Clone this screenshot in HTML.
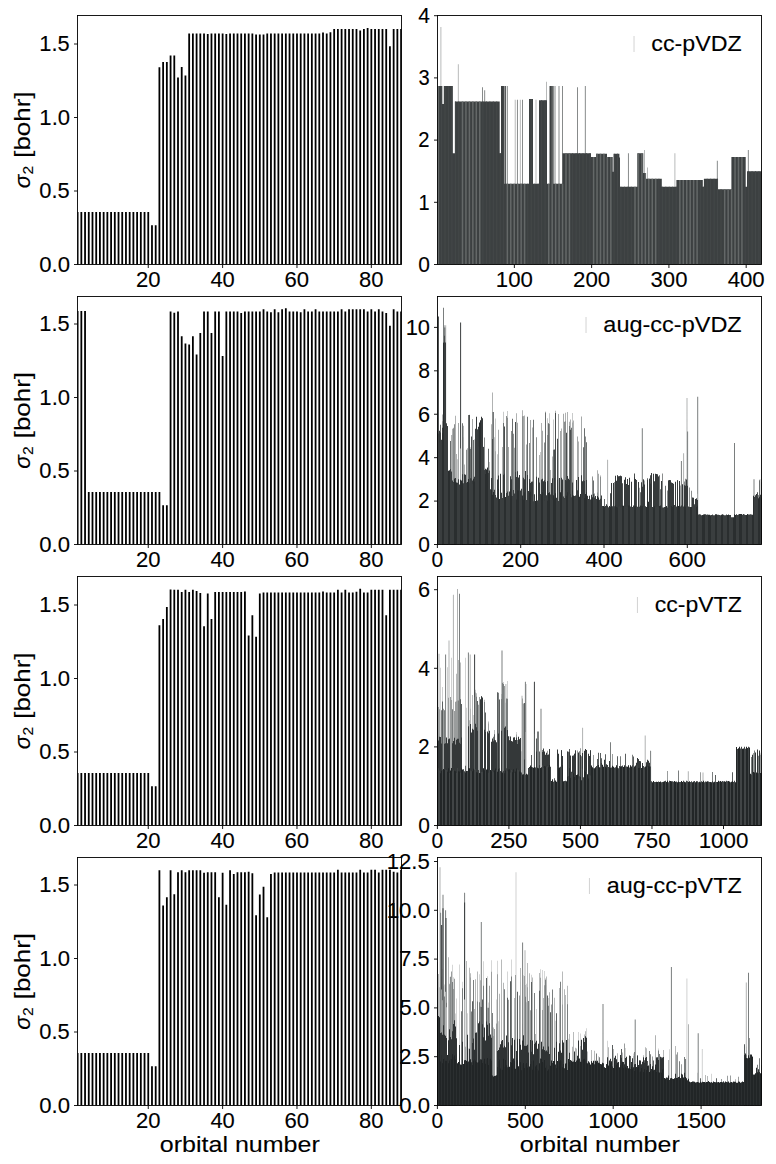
<!DOCTYPE html><html><head><meta charset="utf-8"><style>html,body{margin:0;padding:0;background:#fff;}svg{display:block;}</style></head><body><svg width="776" height="1164" viewBox="0 0 776 1164" font-family="Liberation Sans, sans-serif" fill="#000">
<style>text{stroke:#000;stroke-width:0.12px;}</style>
<rect width="776" height="1164" fill="#fff"/>
<clipPath id="cl0"><rect x="77.50" y="15.50" width="324.00" height="249.00"/></clipPath>
<path clip-path="url(#cl0)" fill="#000" d="M76.72 212.02h1.80V264.50h-1.80zM80.44 212.02h1.80V264.50h-1.80zM84.15 212.02h1.80V264.50h-1.80zM87.87 212.02h1.80V264.50h-1.80zM91.59 212.02h1.80V264.50h-1.80zM95.31 212.02h1.80V264.50h-1.80zM99.03 212.02h1.80V264.50h-1.80zM102.74 212.02h1.80V264.50h-1.80zM106.46 212.02h1.80V264.50h-1.80zM110.18 212.02h1.80V264.50h-1.80zM113.90 212.02h1.80V264.50h-1.80zM117.62 212.02h1.80V264.50h-1.80zM121.33 212.02h1.80V264.50h-1.80zM125.05 212.02h1.80V264.50h-1.80zM128.77 212.02h1.80V264.50h-1.80zM132.49 212.02h1.80V264.50h-1.80zM136.21 212.02h1.80V264.50h-1.80zM139.92 212.02h1.80V264.50h-1.80zM143.64 212.02h1.80V264.50h-1.80zM147.36 212.02h1.80V264.50h-1.80zM151.08 225.25h1.80V264.50h-1.80zM154.80 225.25h1.80V264.50h-1.80zM158.51 67.37h1.80V264.50h-1.80zM162.23 61.93h1.80V264.50h-1.80zM165.95 61.93h1.80V264.50h-1.80zM169.67 55.47h1.80V264.50h-1.80zM173.39 55.47h1.80V264.50h-1.80zM177.10 77.52h1.80V264.50h-1.80zM180.82 67.08h1.80V264.50h-1.80zM184.54 75.46h1.80V264.50h-1.80zM188.26 33.42h1.80V264.50h-1.80zM191.98 33.42h1.80V264.50h-1.80zM195.69 33.42h1.80V264.50h-1.80zM199.41 33.42h1.80V264.50h-1.80zM203.13 33.42h1.80V264.50h-1.80zM206.85 34.00h1.80V264.50h-1.80zM210.57 33.42h1.80V264.50h-1.80zM214.28 33.42h1.80V264.50h-1.80zM218.00 33.42h1.80V264.50h-1.80zM221.72 33.42h1.80V264.50h-1.80zM225.44 34.00h1.80V264.50h-1.80zM229.16 33.42h1.80V264.50h-1.80zM232.87 33.42h1.80V264.50h-1.80zM236.59 33.42h1.80V264.50h-1.80zM240.31 33.42h1.80V264.50h-1.80zM244.03 33.42h1.80V264.50h-1.80zM247.75 33.42h1.80V264.50h-1.80zM251.46 33.42h1.80V264.50h-1.80zM255.18 34.59h1.80V264.50h-1.80zM258.90 34.59h1.80V264.50h-1.80zM262.62 34.59h1.80V264.50h-1.80zM266.34 33.42h1.80V264.50h-1.80zM270.05 33.42h1.80V264.50h-1.80zM273.77 33.42h1.80V264.50h-1.80zM277.49 33.42h1.80V264.50h-1.80zM281.21 33.42h1.80V264.50h-1.80zM284.93 33.42h1.80V264.50h-1.80zM288.64 33.42h1.80V264.50h-1.80zM292.36 33.42h1.80V264.50h-1.80zM296.08 33.42h1.80V264.50h-1.80zM299.80 33.42h1.80V264.50h-1.80zM303.52 33.42h1.80V264.50h-1.80zM307.23 33.42h1.80V264.50h-1.80zM310.95 33.42h1.80V264.50h-1.80zM314.67 33.42h1.80V264.50h-1.80zM318.39 33.42h1.80V264.50h-1.80zM322.11 32.53h1.80V264.50h-1.80zM325.82 33.42h1.80V264.50h-1.80zM329.54 32.24h1.80V264.50h-1.80zM333.26 29.01h1.80V264.50h-1.80zM336.98 29.01h1.80V264.50h-1.80zM340.70 29.01h1.80V264.50h-1.80zM344.41 29.01h1.80V264.50h-1.80zM348.13 29.01h1.80V264.50h-1.80zM351.85 29.01h1.80V264.50h-1.80zM355.57 29.01h1.80V264.50h-1.80zM359.29 30.48h1.80V264.50h-1.80zM363.00 29.01h1.80V264.50h-1.80zM366.72 28.12h1.80V264.50h-1.80zM370.44 29.01h1.80V264.50h-1.80zM374.16 29.01h1.80V264.50h-1.80zM377.88 29.01h1.80V264.50h-1.80zM381.59 29.01h1.80V264.50h-1.80zM385.31 29.01h1.80V264.50h-1.80zM389.03 46.35h1.80V264.50h-1.80zM392.75 29.01h1.80V264.50h-1.80zM396.47 29.01h1.80V264.50h-1.80zM400.18 29.01h1.80V264.50h-1.80z"/>
<rect x="77.50" y="15.50" width="324.00" height="249.00" fill="none" stroke="#000" stroke-width="0.9"/>
<text x="39.30" y="271.80" font-size="21.50" textLength="30.74" lengthAdjust="spacingAndGlyphs">0.0</text>
<text x="39.31" y="198.30" font-size="21.50" textLength="30.37" lengthAdjust="spacingAndGlyphs">0.5</text>
<text x="39.36" y="124.80" font-size="21.50" textLength="30.68" lengthAdjust="spacingAndGlyphs">1.0</text>
<text x="39.38" y="51.30" font-size="21.50" textLength="30.30" lengthAdjust="spacingAndGlyphs">1.5</text>
<path stroke="#000" stroke-width="0.9" d="M74.00 264.50h3.50M74.00 191.00h3.50M74.00 117.50h3.50M74.00 44.00h3.50"/>
<text x="135.95" y="286.50" font-size="21.50" textLength="24.52" lengthAdjust="spacingAndGlyphs">20</text>
<text x="210.43" y="286.50" font-size="21.50" textLength="24.39" lengthAdjust="spacingAndGlyphs">40</text>
<text x="284.58" y="286.50" font-size="21.50" textLength="24.60" lengthAdjust="spacingAndGlyphs">60</text>
<text x="359.09" y="286.50" font-size="21.50" textLength="24.46" lengthAdjust="spacingAndGlyphs">80</text>
<path stroke="#000" stroke-width="0.9" d="M148.26 264.50v3.50M222.62 264.50v3.50M296.98 264.50v3.50M371.34 264.50v3.50"/>
<text transform="translate(29.6 188.20) rotate(-90)" font-size="22.3" font-style="italic">&#963;</text>
<text transform="translate(32.9 174.40) rotate(-90)" font-size="15.5">2</text>
<text transform="translate(29.6 157.80) rotate(-90)" font-size="22.4" textLength="66.3" lengthAdjust="spacingAndGlyphs">[bohr]</text>
<clipPath id="cr0"><rect x="437.50" y="15.50" width="324.00" height="249.00"/></clipPath>
<g clip-path="url(#cr0)">
<path fill="#3a3e3f" d="M505.15 85.99H506.05V264.50H505.15z"/>
<path fill="#7a7e7e" d="M506.85 85.99H507.75V264.50H506.85zM482.05 87.23H482.95V264.50H482.05zM484.25 90.34H485.15V264.50H484.25zM516.95 99.67H517.85V264.50H516.95zM522.05 99.67H522.95V264.50H522.05zM554.55 85.99H555.45V264.50H554.55zM558.55 85.99H559.45V264.50H558.55zM562.05 85.99H562.95V264.50H562.05zM577.05 87.23H577.95V264.50H577.05zM584.85 85.99H585.75V264.50H584.85zM627.95 153.16H628.85V264.50H627.95zM716.85 160.63H717.75V264.50H716.85zM747.85 150.05H748.75V264.50H747.85z"/>
<path fill="#b0b2b2" d="M440.45 26.90H441.35V264.50H440.45zM457.85 64.22H458.75V264.50H457.85zM514.75 99.67H515.65V264.50H514.75zM519.85 99.67H520.75V264.50H519.85zM535.55 99.67H536.45V264.50H535.55zM546.05 81.63H546.95V264.50H546.05zM644.05 150.05H644.95V264.50H644.05zM647.05 167.47H647.95V264.50H647.05zM674.45 153.16H675.35V264.50H674.45z"/>
<path fill="#3c4041" d="M437.50 85.99H442.30V264.50H437.50zM442.30 104.02H443.80V264.50H442.30zM443.80 85.99H452.80V264.50H443.80zM452.80 153.16H455.00V264.50H452.80zM455.00 101.54H499.70V264.50H455.00zM499.70 153.16H501.00V264.50H499.70zM501.00 85.99H504.50V264.50H501.00zM504.50 183.64H529.00V264.50H504.50zM529.00 99.05H533.00V264.50H529.00zM533.00 183.64H539.00V264.50H533.00zM539.00 100.29H547.00V264.50H539.00zM547.00 183.64H549.50V264.50H547.00zM549.50 85.99H553.60V264.50H549.50zM553.60 183.64H562.50V264.50H553.60zM562.50 153.16H591.00V264.50H562.50zM591.00 156.89H596.00V264.50H591.00zM596.00 153.78H607.00V264.50H596.00zM607.00 156.89H612.70V264.50H607.00zM612.70 171.82H613.90V264.50H612.70zM613.90 153.78H619.40V264.50H613.90zM619.40 157.52H620.00V264.50H619.40zM620.00 186.75H637.30V264.50H620.00zM637.30 153.16H643.30V264.50H637.30zM643.30 173.07H645.60V264.50H643.30zM645.60 178.66H661.80V264.50H645.60zM661.80 186.75H676.40V264.50H661.80zM676.40 179.91H702.80V264.50H676.40zM702.80 186.75H703.90V264.50H702.80zM703.90 178.66H717.70V264.50H703.90zM717.70 189.24H731.40V264.50H717.70zM731.40 156.89H745.20V264.50H731.40zM745.20 186.75H747.00V264.50H745.20zM747.00 171.20H762.00V264.50H747.00z"/>
<path fill="#646868" d="M437.60 85.99H439.10V264.50H437.60zM461.75 101.54H463.25V264.50H461.75zM465.20 101.54H466.70V264.50H465.20zM468.65 101.54H470.15V264.50H468.65zM472.10 101.54H473.60V264.50H472.10zM475.55 101.54H477.05V264.50H475.55zM479.00 101.54H480.50V264.50H479.00zM506.60 183.64H508.10V264.50H506.60zM510.05 183.64H511.55V264.50H510.05zM513.50 183.64H515.00V264.50H513.50zM516.95 183.64H518.45V264.50H516.95zM520.40 183.64H521.90V264.50H520.40zM523.85 183.64H525.35V264.50H523.85zM548.00 183.64H549.50V264.50H548.00zM551.45 85.99H552.95V264.50H551.45zM554.90 183.64H556.40V264.50H554.90zM558.35 183.64H559.85V264.50H558.35zM561.80 183.64H563.30V264.50H561.80zM565.25 153.16H566.75V264.50H565.25zM568.70 153.16H570.20V264.50H568.70zM592.85 156.89H594.35V264.50H592.85zM596.30 153.78H597.80V264.50H596.30zM599.75 153.78H601.25V264.50H599.75zM603.20 153.78H604.70V264.50H603.20zM606.65 156.89H608.15V264.50H606.65zM610.10 156.89H611.60V264.50H610.10zM634.25 186.75H635.75V264.50H634.25zM637.70 153.16H639.20V264.50H637.70zM641.15 153.16H642.65V264.50H641.15zM644.60 173.07H646.10V264.50H644.60zM648.05 178.66H649.55V264.50H648.05zM651.50 178.66H653.00V264.50H651.50zM654.95 178.66H656.45V264.50H654.95zM679.10 179.91H680.60V264.50H679.10zM682.55 179.91H684.05V264.50H682.55zM686.00 179.91H687.50V264.50H686.00zM689.45 179.91H690.95V264.50H689.45zM692.90 179.91H694.40V264.50H692.90zM696.35 179.91H697.85V264.50H696.35zM723.95 189.24H725.45V264.50H723.95zM727.40 189.24H728.90V264.50H727.40zM730.85 189.24H732.35V264.50H730.85zM734.30 156.89H735.80V264.50H734.30zM737.75 156.89H739.25V264.50H737.75zM741.20 156.89H742.70V264.50H741.20z"/>
<path fill="#444849" d="M441.05 85.99H442.05V264.50H441.05zM444.50 85.99H445.50V264.50H444.50zM447.95 85.99H448.95V264.50H447.95zM451.40 85.99H452.40V264.50H451.40zM454.85 101.54H455.85V264.50H454.85zM458.30 101.54H459.30V264.50H458.30zM482.45 101.54H483.45V264.50H482.45zM485.90 101.54H486.90V264.50H485.90zM489.35 101.54H490.35V264.50H489.35zM492.80 101.54H493.80V264.50H492.80zM496.25 101.54H497.25V264.50H496.25zM499.70 153.16H500.70V264.50H499.70zM503.15 85.99H504.15V264.50H503.15zM527.30 183.64H528.30V264.50H527.30zM530.75 99.05H531.75V264.50H530.75zM534.20 183.64H535.20V264.50H534.20zM537.65 183.64H538.65V264.50H537.65zM541.10 100.29H542.10V264.50H541.10zM544.55 100.29H545.55V264.50H544.55zM572.15 153.16H573.15V264.50H572.15zM575.60 153.16H576.60V264.50H575.60zM579.05 153.16H580.05V264.50H579.05zM582.50 153.16H583.50V264.50H582.50zM585.95 153.16H586.95V264.50H585.95zM589.40 153.16H590.40V264.50H589.40zM613.55 153.78H614.55V264.50H613.55zM617.00 153.78H618.00V264.50H617.00zM620.45 186.75H621.45V264.50H620.45zM623.90 186.75H624.90V264.50H623.90zM627.35 186.75H628.35V264.50H627.35zM630.80 186.75H631.80V264.50H630.80zM658.40 178.66H659.40V264.50H658.40zM661.85 186.75H662.85V264.50H661.85zM665.30 186.75H666.30V264.50H665.30zM668.75 186.75H669.75V264.50H668.75zM672.20 186.75H673.20V264.50H672.20zM675.65 186.75H676.65V264.50H675.65zM699.80 179.91H700.80V264.50H699.80zM703.25 186.75H704.25V264.50H703.25zM706.70 178.66H707.70V264.50H706.70zM710.15 178.66H711.15V264.50H710.15zM713.60 178.66H714.60V264.50H713.60zM717.05 178.66H718.05V264.50H717.05zM720.50 189.24H721.50V264.50H720.50zM744.65 156.89H745.65V264.50H744.65zM748.10 171.20H749.10V264.50H748.10zM751.55 171.20H752.55V264.50H751.55zM755.00 171.20H756.00V264.50H755.00zM758.45 171.20H759.45V264.50H758.45z"/>
</g>
<rect x="437.50" y="15.50" width="324.00" height="249.00" fill="none" stroke="#000" stroke-width="0.9"/>
<text x="418.33" y="271.80" font-size="21.50" textLength="11.67" lengthAdjust="spacingAndGlyphs">0</text>
<text x="418.51" y="209.60" font-size="21.50" textLength="11.14" lengthAdjust="spacingAndGlyphs">1</text>
<text x="418.28" y="147.40" font-size="21.50" textLength="11.24" lengthAdjust="spacingAndGlyphs">2</text>
<text x="418.59" y="85.20" font-size="21.50" textLength="11.21" lengthAdjust="spacingAndGlyphs">3</text>
<text x="418.33" y="23.00" font-size="21.50" textLength="11.66" lengthAdjust="spacingAndGlyphs">4</text>
<path stroke="#000" stroke-width="0.9" d="M434.00 264.50h3.50M434.00 202.30h3.50M434.00 140.10h3.50M434.00 77.90h3.50M434.00 15.70h3.50"/>
<text x="495.88" y="286.50" font-size="21.50" textLength="37.03" lengthAdjust="spacingAndGlyphs">100</text>
<text x="572.99" y="286.50" font-size="21.50" textLength="37.20" lengthAdjust="spacingAndGlyphs">200</text>
<text x="650.59" y="286.50" font-size="21.50" textLength="36.85" lengthAdjust="spacingAndGlyphs">300</text>
<text x="727.65" y="286.50" font-size="21.50" textLength="37.07" lengthAdjust="spacingAndGlyphs">400</text>
<path stroke="#000" stroke-width="0.9" d="M514.37 264.50v3.50M591.64 264.50v3.50M668.91 264.50v3.50M746.18 264.50v3.50"/>
<path stroke="#c8c8c8" stroke-width="0.8" d="M634.03 36.00v16.00"/>
<text x="651.35" y="50.50" font-size="22.40" textLength="90.37" lengthAdjust="spacingAndGlyphs">cc-pVDZ</text>
<clipPath id="cl1"><rect x="77.50" y="296.50" width="324.00" height="248.00"/></clipPath>
<path clip-path="url(#cl1)" fill="#000" d="M76.72 311.06h1.80V544.50h-1.80zM80.44 311.06h1.80V544.50h-1.80zM84.15 311.06h1.80V544.50h-1.80zM87.87 492.02h1.80V544.50h-1.80zM91.59 492.02h1.80V544.50h-1.80zM95.31 492.02h1.80V544.50h-1.80zM99.03 492.02h1.80V544.50h-1.80zM102.74 492.02h1.80V544.50h-1.80zM106.46 492.02h1.80V544.50h-1.80zM110.18 492.02h1.80V544.50h-1.80zM113.90 492.02h1.80V544.50h-1.80zM117.62 492.02h1.80V544.50h-1.80zM121.33 492.02h1.80V544.50h-1.80zM125.05 492.02h1.80V544.50h-1.80zM128.77 492.02h1.80V544.50h-1.80zM132.49 492.02h1.80V544.50h-1.80zM136.21 492.02h1.80V544.50h-1.80zM139.92 492.02h1.80V544.50h-1.80zM143.64 492.02h1.80V544.50h-1.80zM147.36 492.02h1.80V544.50h-1.80zM151.08 492.02h1.80V544.50h-1.80zM154.80 492.02h1.80V544.50h-1.80zM158.51 492.02h1.80V544.50h-1.80zM162.23 505.25h1.80V544.50h-1.80zM165.95 505.25h1.80V544.50h-1.80zM169.67 311.50h1.80V544.50h-1.80zM173.39 312.68h1.80V544.50h-1.80zM177.10 311.50h1.80V544.50h-1.80zM180.82 336.35h1.80V544.50h-1.80zM184.54 343.55h1.80V544.50h-1.80zM188.26 344.43h1.80V544.50h-1.80zM191.98 336.35h1.80V544.50h-1.80zM195.69 354.43h1.80V544.50h-1.80zM199.41 333.11h1.80V544.50h-1.80zM203.13 311.50h1.80V544.50h-1.80zM206.85 311.50h1.80V544.50h-1.80zM210.57 333.11h1.80V544.50h-1.80zM214.28 311.50h1.80V544.50h-1.80zM218.00 311.50h1.80V544.50h-1.80zM221.72 356.05h1.80V544.50h-1.80zM225.44 311.50h1.80V544.50h-1.80zM229.16 311.50h1.80V544.50h-1.80zM232.87 311.50h1.80V544.50h-1.80zM236.59 311.50h1.80V544.50h-1.80zM240.31 312.98h1.80V544.50h-1.80zM244.03 311.50h1.80V544.50h-1.80zM247.75 311.50h1.80V544.50h-1.80zM251.46 311.50h1.80V544.50h-1.80zM255.18 311.50h1.80V544.50h-1.80zM258.90 311.50h1.80V544.50h-1.80zM262.62 309.30h1.80V544.50h-1.80zM266.34 311.50h1.80V544.50h-1.80zM270.05 312.24h1.80V544.50h-1.80zM273.77 309.30h1.80V544.50h-1.80zM277.49 312.24h1.80V544.50h-1.80zM281.21 309.30h1.80V544.50h-1.80zM284.93 308.27h1.80V544.50h-1.80zM288.64 311.50h1.80V544.50h-1.80zM292.36 311.50h1.80V544.50h-1.80zM296.08 311.50h1.80V544.50h-1.80zM299.80 312.24h1.80V544.50h-1.80zM303.52 309.30h1.80V544.50h-1.80zM307.23 311.50h1.80V544.50h-1.80zM310.95 311.50h1.80V544.50h-1.80zM314.67 309.30h1.80V544.50h-1.80zM318.39 311.50h1.80V544.50h-1.80zM322.11 311.50h1.80V544.50h-1.80zM325.82 311.50h1.80V544.50h-1.80zM329.54 311.50h1.80V544.50h-1.80zM333.26 311.50h1.80V544.50h-1.80zM336.98 311.50h1.80V544.50h-1.80zM340.70 309.30h1.80V544.50h-1.80zM344.41 311.50h1.80V544.50h-1.80zM348.13 309.30h1.80V544.50h-1.80zM351.85 309.30h1.80V544.50h-1.80zM355.57 309.30h1.80V544.50h-1.80zM359.29 309.30h1.80V544.50h-1.80zM363.00 309.30h1.80V544.50h-1.80zM366.72 311.50h1.80V544.50h-1.80zM370.44 309.30h1.80V544.50h-1.80zM374.16 311.50h1.80V544.50h-1.80zM377.88 309.30h1.80V544.50h-1.80zM381.59 311.50h1.80V544.50h-1.80zM385.31 312.98h1.80V544.50h-1.80zM389.03 325.76h1.80V544.50h-1.80zM392.75 309.30h1.80V544.50h-1.80zM396.47 311.50h1.80V544.50h-1.80zM400.18 311.50h1.80V544.50h-1.80z"/>
<rect x="77.50" y="296.50" width="324.00" height="248.00" fill="none" stroke="#000" stroke-width="0.9"/>
<text x="39.30" y="551.80" font-size="21.50" textLength="30.74" lengthAdjust="spacingAndGlyphs">0.0</text>
<text x="39.31" y="478.30" font-size="21.50" textLength="30.37" lengthAdjust="spacingAndGlyphs">0.5</text>
<text x="39.36" y="404.80" font-size="21.50" textLength="30.68" lengthAdjust="spacingAndGlyphs">1.0</text>
<text x="39.38" y="331.30" font-size="21.50" textLength="30.30" lengthAdjust="spacingAndGlyphs">1.5</text>
<path stroke="#000" stroke-width="0.9" d="M74.00 544.50h3.50M74.00 471.00h3.50M74.00 397.50h3.50M74.00 324.00h3.50"/>
<text x="135.95" y="566.50" font-size="21.50" textLength="24.52" lengthAdjust="spacingAndGlyphs">20</text>
<text x="210.43" y="566.50" font-size="21.50" textLength="24.39" lengthAdjust="spacingAndGlyphs">40</text>
<text x="284.58" y="566.50" font-size="21.50" textLength="24.60" lengthAdjust="spacingAndGlyphs">60</text>
<text x="359.09" y="566.50" font-size="21.50" textLength="24.46" lengthAdjust="spacingAndGlyphs">80</text>
<path stroke="#000" stroke-width="0.9" d="M148.26 544.50v3.50M222.62 544.50v3.50M296.98 544.50v3.50M371.34 544.50v3.50"/>
<text transform="translate(29.6 468.70) rotate(-90)" font-size="22.3" font-style="italic">&#963;</text>
<text transform="translate(32.9 454.90) rotate(-90)" font-size="15.5">2</text>
<text transform="translate(29.6 438.30) rotate(-90)" font-size="22.4" textLength="66.3" lengthAdjust="spacingAndGlyphs">[bohr]</text>
<clipPath id="cr1"><rect x="437.50" y="296.50" width="324.00" height="248.00"/></clipPath>
<g clip-path="url(#cr1)">
<path fill="#c8caca" d="M457.00 459.15H458.00V544.50H457.00zM460.00 425.52H461.00V544.50H460.00zM470.00 447.23H471.00V544.50H470.00zM474.00 439.36H475.00V544.50H474.00zM489.00 461.99H490.00V544.50H489.00zM492.00 420.55H493.00V544.50H492.00zM494.00 437.27H495.00V544.50H494.00zM495.00 418.40H496.00V544.50H495.00zM497.00 454.15H498.00V544.50H497.00zM503.00 411.85H504.00V544.50H503.00zM507.00 411.11H508.00V544.50H507.00zM523.00 415.95H524.00V544.50H523.00zM540.00 452.12H541.00V544.50H540.00zM545.00 411.52H546.00V544.50H545.00zM547.00 418.13H548.00V544.50H547.00zM549.00 413.34H550.00V544.50H549.00zM553.00 419.52H554.00V544.50H553.00zM572.00 412.89H573.00V544.50H572.00z"/>
<path fill="#b0b2b2" d="M442.00 414.58H443.00V544.50H442.00zM451.00 434.88H452.00V544.50H451.00zM452.00 428.79H453.00V544.50H452.00zM453.00 427.70H454.00V544.50H453.00zM455.00 415.73H456.00V544.50H455.00zM456.00 453.90H457.00V544.50H456.00zM463.00 425.74H464.00V544.50H463.00zM464.00 464.58H465.00V544.50H464.00zM467.00 448.26H468.00V544.50H467.00zM469.00 414.70H470.00V544.50H469.00zM491.00 424.21H492.00V544.50H491.00zM502.00 447.04H503.00V544.50H502.00zM516.00 413.13H517.00V544.50H516.00zM522.00 410.31H523.00V544.50H522.00zM524.00 415.58H525.00V544.50H524.00zM532.00 427.46H533.00V544.50H532.00zM539.00 454.99H540.00V544.50H539.00zM541.00 422.89H542.00V544.50H541.00zM550.00 470.00H551.00V544.50H550.00zM552.00 456.43H553.00V544.50H552.00zM555.00 410.82H556.00V544.50H555.00zM561.00 428.38H562.00V544.50H561.00zM565.00 412.82H566.00V544.50H565.00zM567.00 412.12H568.00V544.50H567.00zM569.00 421.80H570.00V544.50H569.00zM570.00 419.49H571.00V544.50H570.00zM573.00 420.49H574.00V544.50H573.00zM578.00 441.49H579.00V544.50H578.00zM592.00 476.15H593.00V544.50H592.00zM597.00 470.24H598.00V544.50H597.00zM600.00 475.41H601.00V544.50H600.00zM445.20 325.23H446.20V544.50H445.20zM492.00 392.53H493.00V544.50H492.00zM607.10 459.83H608.10V544.50H607.10zM683.10 453.32H684.10V544.50H683.10zM686.50 397.96H687.50V544.50H686.50zM759.50 479.37H760.50V544.50H759.50z"/>
<path fill="#7a7e7e" d="M443.50 325.23H444.50V544.50H443.50zM444.40 327.40H445.40V544.50H444.40zM443.00 307.86H444.00V544.50H443.00zM641.80 428.35H642.80V544.50H641.80zM680.90 460.92H681.90V544.50H680.90zM687.10 431.61H688.10V544.50H687.10zM697.20 396.87H698.20V544.50H697.20zM734.00 442.90H735.00V544.50H734.00zM753.50 479.37H754.50V544.50H753.50z"/>
<path fill="#3a3e3f" d="M437.90 316.54H438.90V544.50H437.90zM460.10 322.41H461.10V544.50H460.10zM492.70 412.07H493.70V544.50H492.70z"/>
<path fill="#8a8d8d" d="M437.00 417.56H438.00V544.50H437.00zM442.00 421.15H443.00V544.50H442.00zM453.00 428.40H454.00V544.50H453.00zM454.00 424.23H455.00V544.50H454.00zM466.00 449.67H467.00V544.50H466.00zM484.00 437.50H485.00V544.50H484.00zM506.00 416.02H507.00V544.50H506.00zM507.00 417.64H508.00V544.50H507.00zM511.00 431.01H512.00V544.50H511.00zM513.00 433.63H514.00V544.50H513.00zM522.00 416.37H523.00V544.50H522.00zM529.00 443.10H530.00V544.50H529.00zM536.00 437.33H537.00V544.50H536.00zM544.00 442.60H545.00V544.50H544.00zM547.00 434.88H548.00V544.50H547.00zM549.00 423.96H550.00V544.50H549.00zM564.00 421.87H565.00V544.50H564.00zM565.00 421.34H566.00V544.50H565.00zM585.00 436.39H586.00V544.50H585.00zM592.00 477.37H593.00V544.50H592.00zM594.00 493.45H595.00V544.50H594.00zM597.00 492.54H598.00V544.50H597.00zM600.00 476.95H601.00V544.50H600.00zM613.00 482.96H614.00V544.50H613.00zM614.00 482.08H615.00V544.50H614.00zM620.00 475.83H621.00V544.50H620.00zM647.00 478.07H648.00V544.50H647.00zM662.00 473.43H663.00V544.50H662.00zM667.00 490.54H668.00V544.50H667.00zM670.00 480.36H671.00V544.50H670.00zM677.00 480.30H678.00V544.50H677.00zM684.00 481.48H685.00V544.50H684.00zM685.00 478.65H686.00V544.50H685.00zM687.00 485.68H688.00V544.50H687.00zM689.00 487.44H690.00V544.50H689.00zM691.00 490.83H692.00V544.50H691.00zM758.00 494.94H759.00V544.50H758.00z"/>
<path fill="#6a6e6e" d="M440.00 424.72H441.00V544.50H440.00zM450.00 440.98H451.00V544.50H450.00zM462.00 423.29H463.00V544.50H462.00zM468.00 415.00H469.00V544.50H468.00zM470.00 449.00H471.00V544.50H470.00zM473.00 440.00H474.00V544.50H473.00zM477.00 429.58H478.00V544.50H477.00zM488.00 448.67H489.00V544.50H488.00zM503.00 423.09H504.00V544.50H503.00zM512.00 418.71H513.00V544.50H512.00zM527.00 416.70H528.00V544.50H527.00zM533.00 419.79H534.00V544.50H533.00zM545.00 412.57H546.00V544.50H545.00zM548.00 423.16H549.00V544.50H548.00zM553.00 449.64H554.00V544.50H553.00zM569.00 426.01H570.00V544.50H569.00zM571.00 427.75H572.00V544.50H571.00zM583.00 447.23H584.00V544.50H583.00zM584.00 428.19H585.00V544.50H584.00zM586.00 442.37H587.00V544.50H586.00zM593.00 480.59H594.00V544.50H593.00zM604.00 499.09H605.00V544.50H604.00zM640.00 492.16H641.00V544.50H640.00zM643.00 479.43H644.00V544.50H643.00zM649.00 478.81H650.00V544.50H649.00zM659.00 475.27H660.00V544.50H659.00zM660.00 489.27H661.00V544.50H660.00zM665.00 485.76H666.00V544.50H665.00zM668.00 480.54H669.00V544.50H668.00zM696.00 498.43H697.00V544.50H696.00zM759.00 480.32H760.00V544.50H759.00zM761.00 482.13H762.00V544.50H761.00z"/>
<path fill="#a5a8a8" d="M443.00 342.60H444.00V544.50H443.00zM445.00 342.60H446.00V544.50H445.00zM447.00 426.31H448.00V544.50H447.00zM452.00 434.65H453.00V544.50H452.00zM458.00 423.05H459.00V544.50H458.00zM460.00 448.41H461.00V544.50H460.00zM463.00 437.34H464.00V544.50H463.00zM472.00 419.04H473.00V544.50H472.00zM483.00 446.81H484.00V544.50H483.00zM495.00 451.29H496.00V544.50H495.00zM498.00 429.66H499.00V544.50H498.00zM508.00 446.97H509.00V544.50H508.00zM514.00 447.85H515.00V544.50H514.00zM517.00 422.87H518.00V544.50H517.00zM523.00 416.28H524.00V544.50H523.00zM526.00 444.42H527.00V544.50H526.00zM530.00 420.09H531.00V544.50H530.00zM542.00 430.87H543.00V544.50H542.00zM558.00 413.94H559.00V544.50H558.00zM560.00 431.07H561.00V544.50H560.00zM563.00 413.86H564.00V544.50H563.00zM572.00 422.47H573.00V544.50H572.00zM577.00 436.55H578.00V544.50H577.00zM581.00 416.61H582.00V544.50H581.00zM598.00 473.70H599.00V544.50H598.00zM617.00 475.18H618.00V544.50H617.00zM621.00 476.32H622.00V544.50H621.00zM639.00 487.78H640.00V544.50H639.00zM644.00 480.38H645.00V544.50H644.00zM651.00 472.88H652.00V544.50H651.00zM658.00 476.42H659.00V544.50H658.00zM680.00 485.41H681.00V544.50H680.00zM697.00 493.87H698.00V544.50H697.00z"/>
<path fill="#4a4e4e" d="M444.00 335.83H445.00V544.50H444.00zM446.00 423.47H447.00V544.50H446.00zM469.00 414.98H470.00V544.50H469.00zM471.00 436.58H472.00V544.50H471.00zM492.00 439.03H493.00V544.50H492.00zM504.00 426.48H505.00V544.50H504.00zM515.00 422.04H516.00V544.50H515.00zM554.00 449.50H555.00V544.50H554.00zM555.00 413.05H556.00V544.50H555.00zM557.00 438.69H558.00V544.50H557.00zM566.00 432.63H567.00V544.50H566.00zM570.00 429.64H571.00V544.50H570.00zM610.00 493.27H611.00V544.50H610.00zM619.00 476.29H620.00V544.50H619.00zM622.00 483.15H623.00V544.50H622.00zM634.00 473.41H635.00V544.50H634.00zM636.00 480.07H637.00V544.50H636.00zM650.00 475.13H651.00V544.50H650.00zM657.00 474.49H658.00V544.50H657.00zM694.00 504.13H695.00V544.50H694.00zM757.00 492.31H758.00V544.50H757.00z"/>
<path fill="#363a3b" d="M438.00 433.78H439.00V544.50H438.00zM439.00 430.73H440.00V544.50H439.00zM442.00 427.64H443.00V544.50H442.00zM447.00 426.31H448.00V544.50H447.00zM451.00 471.86H452.00V544.50H451.00zM452.00 480.38H453.00V544.50H452.00zM454.00 478.68H455.00V544.50H454.00zM455.00 477.92H456.00V544.50H455.00zM462.00 474.32H463.00V544.50H462.00zM464.00 474.23H465.00V544.50H464.00zM465.00 474.73H466.00V544.50H465.00zM470.00 478.34H471.00V544.50H470.00zM471.00 478.80H472.00V544.50H471.00zM472.00 480.49H473.00V544.50H472.00zM474.00 476.79H475.00V544.50H474.00zM476.00 416.68H477.00V544.50H476.00zM478.00 426.84H479.00V544.50H478.00zM480.00 420.52H481.00V544.50H480.00zM481.00 416.68H482.00V544.50H481.00zM482.00 418.13H483.00V544.50H482.00zM484.00 470.14H485.00V544.50H484.00zM485.00 468.72H486.00V544.50H485.00zM487.00 467.65H488.00V544.50H487.00zM491.00 477.91H492.00V544.50H491.00zM497.00 479.48H498.00V544.50H497.00zM498.00 475.45H499.00V544.50H498.00zM500.00 473.64H501.00V544.50H500.00zM503.00 474.74H504.00V544.50H503.00zM504.00 473.84H505.00V544.50H504.00zM510.00 476.20H511.00V544.50H510.00zM511.00 479.17H512.00V544.50H511.00zM515.00 471.95H516.00V544.50H515.00zM516.00 476.95H517.00V544.50H516.00zM517.00 471.24H518.00V544.50H517.00zM518.00 477.49H519.00V544.50H518.00zM519.00 474.88H520.00V544.50H519.00zM523.00 477.75H524.00V544.50H523.00zM524.00 479.29H525.00V544.50H524.00zM525.00 470.96H526.00V544.50H525.00zM527.00 475.04H528.00V544.50H527.00zM529.00 478.97H530.00V544.50H529.00zM530.00 483.01H531.00V544.50H530.00zM531.00 481.68H532.00V544.50H531.00zM532.00 481.41H533.00V544.50H532.00zM536.00 476.66H537.00V544.50H536.00zM538.00 477.73H539.00V544.50H538.00zM539.00 482.51H540.00V544.50H539.00zM541.00 479.41H542.00V544.50H541.00zM542.00 478.82H543.00V544.50H542.00zM543.00 481.32H544.00V544.50H543.00zM544.00 480.25H545.00V544.50H544.00zM545.00 482.00H546.00V544.50H545.00zM547.00 480.96H548.00V544.50H547.00zM551.00 482.89H552.00V544.50H551.00zM552.00 478.32H553.00V544.50H552.00zM554.00 478.07H555.00V544.50H554.00zM557.00 479.68H558.00V544.50H557.00zM559.00 478.03H560.00V544.50H559.00zM561.00 477.87H562.00V544.50H561.00zM562.00 479.53H563.00V544.50H562.00zM565.00 480.00H566.00V544.50H565.00zM566.00 480.46H567.00V544.50H566.00zM567.00 476.11H568.00V544.50H567.00zM568.00 478.68H569.00V544.50H568.00zM569.00 479.98H570.00V544.50H569.00zM572.00 482.61H573.00V544.50H572.00zM576.00 480.01H577.00V544.50H576.00zM578.00 476.97H579.00V544.50H578.00zM581.00 475.36H582.00V544.50H581.00zM582.00 481.26H583.00V544.50H582.00zM583.00 480.20H584.00V544.50H583.00zM584.00 480.92H585.00V544.50H584.00zM586.00 480.01H587.00V544.50H586.00zM587.00 495.73H588.00V544.50H587.00zM589.00 495.84H590.00V544.50H589.00zM591.00 494.79H592.00V544.50H591.00zM593.00 494.24H594.00V544.50H593.00zM601.00 495.50H602.00V544.50H601.00zM606.00 504.34H607.00V544.50H606.00zM609.00 505.93H610.00V544.50H609.00zM611.00 483.12H612.00V544.50H611.00zM613.00 482.96H614.00V544.50H613.00zM615.00 475.63H616.00V544.50H615.00zM616.00 480.64H617.00V544.50H616.00zM617.00 475.18H618.00V544.50H617.00zM618.00 476.19H619.00V544.50H618.00zM619.00 476.29H620.00V544.50H619.00zM620.00 475.83H621.00V544.50H620.00zM621.00 476.32H622.00V544.50H621.00zM624.00 479.83H625.00V544.50H624.00zM625.00 477.26H626.00V544.50H625.00zM626.00 483.97H627.00V544.50H626.00zM627.00 478.96H628.00V544.50H627.00zM628.00 485.05H629.00V544.50H628.00zM629.00 477.77H630.00V544.50H629.00zM631.00 481.74H632.00V544.50H631.00zM634.00 477.35H635.00V544.50H634.00zM635.00 479.12H636.00V544.50H635.00zM638.00 481.88H639.00V544.50H638.00zM641.00 482.23H642.00V544.50H641.00zM642.00 486.72H643.00V544.50H642.00zM643.00 479.43H644.00V544.50H643.00zM644.00 484.40H645.00V544.50H644.00zM647.00 479.43H648.00V544.50H647.00zM649.00 478.81H650.00V544.50H649.00zM650.00 483.56H651.00V544.50H650.00zM651.00 472.88H652.00V544.50H651.00zM653.00 473.63H654.00V544.50H653.00zM654.00 481.14H655.00V544.50H654.00zM655.00 473.71H656.00V544.50H655.00zM656.00 473.99H657.00V544.50H656.00zM657.00 474.49H658.00V544.50H657.00zM658.00 476.61H659.00V544.50H658.00zM661.00 480.91H662.00V544.50H661.00zM668.00 480.54H669.00V544.50H668.00zM669.00 480.11H670.00V544.50H669.00zM670.00 480.36H671.00V544.50H670.00zM671.00 482.44H672.00V544.50H671.00zM672.00 482.96H673.00V544.50H672.00zM673.00 483.69H674.00V544.50H673.00zM675.00 481.74H676.00V544.50H675.00zM677.00 480.30H678.00V544.50H677.00zM679.00 480.99H680.00V544.50H679.00zM682.00 484.30H683.00V544.50H682.00zM684.00 485.31H685.00V544.50H684.00zM685.00 485.86H686.00V544.50H685.00zM686.00 479.59H687.00V544.50H686.00zM687.00 485.68H688.00V544.50H687.00zM692.00 497.55H693.00V544.50H692.00zM693.00 497.87H694.00V544.50H693.00zM695.00 499.11H696.00V544.50H695.00zM696.00 498.43H697.00V544.50H696.00zM697.00 500.01H698.00V544.50H697.00zM755.00 495.51H756.00V544.50H755.00zM756.00 493.95H757.00V544.50H756.00zM760.00 494.75H761.00V544.50H760.00zM761.00 497.21H762.00V544.50H761.00z"/>
<path fill="#2a2e2f" d="M437.00 431.00H438.00V544.50H437.00zM442.00 433.22H443.00V544.50H442.00zM443.00 342.60H444.00V544.50H443.00zM448.00 470.84H449.00V544.50H448.00zM449.00 470.23H450.00V544.50H449.00zM454.00 478.68H455.00V544.50H454.00zM455.00 481.40H456.00V544.50H455.00zM456.00 482.52H457.00V544.50H456.00zM460.00 479.77H461.00V544.50H460.00zM461.00 480.58H462.00V544.50H461.00zM462.00 483.10H463.00V544.50H462.00zM467.00 481.96H468.00V544.50H467.00zM468.00 478.89H469.00V544.50H468.00zM473.00 478.65H474.00V544.50H473.00zM474.00 481.55H475.00V544.50H474.00zM479.00 422.55H480.00V544.50H479.00zM480.00 420.52H481.00V544.50H480.00zM485.00 473.98H486.00V544.50H485.00zM486.00 469.59H487.00V544.50H486.00zM487.00 467.65H488.00V544.50H487.00zM491.00 489.96H492.00V544.50H491.00zM492.00 494.69H493.00V544.50H492.00zM493.00 492.02H494.00V544.50H493.00zM498.00 488.97H499.00V544.50H498.00zM499.00 498.96H500.00V544.50H499.00zM504.00 490.29H505.00V544.50H504.00zM505.00 497.06H506.00V544.50H505.00zM510.00 488.83H511.00V544.50H510.00zM511.00 495.82H512.00V544.50H511.00zM516.00 499.49H517.00V544.50H516.00zM517.00 490.23H518.00V544.50H517.00zM518.00 490.43H519.00V544.50H518.00zM522.00 495.62H523.00V544.50H522.00zM523.00 499.63H524.00V544.50H523.00zM524.00 492.53H525.00V544.50H524.00zM529.00 492.80H530.00V544.50H529.00zM530.00 491.74H531.00V544.50H530.00zM535.00 500.95H536.00V544.50H535.00zM536.00 494.50H537.00V544.50H536.00zM541.00 495.21H542.00V544.50H541.00zM542.00 492.30H543.00V544.50H542.00zM547.00 500.67H548.00V544.50H547.00zM548.00 493.06H549.00V544.50H548.00zM549.00 492.13H550.00V544.50H549.00zM553.00 495.27H554.00V544.50H553.00zM554.00 498.80H555.00V544.50H554.00zM555.00 493.25H556.00V544.50H555.00zM560.00 492.19H561.00V544.50H560.00zM561.00 490.17H562.00V544.50H561.00zM566.00 495.65H567.00V544.50H566.00zM567.00 492.34H568.00V544.50H567.00zM572.00 490.60H573.00V544.50H572.00zM573.00 495.40H574.00V544.50H573.00zM578.00 494.98H579.00V544.50H578.00zM579.00 496.74H580.00V544.50H579.00zM580.00 493.93H581.00V544.50H580.00zM584.00 497.96H585.00V544.50H584.00zM585.00 494.02H586.00V544.50H585.00zM586.00 492.36H587.00V544.50H586.00zM591.00 499.32H592.00V544.50H591.00zM592.00 497.29H593.00V544.50H592.00zM597.00 495.97H598.00V544.50H597.00zM598.00 497.42H599.00V544.50H598.00zM603.00 505.95H604.00V544.50H603.00zM604.00 506.87H605.00V544.50H604.00zM609.00 506.43H610.00V544.50H609.00zM610.00 507.12H611.00V544.50H610.00zM611.00 506.17H612.00V544.50H611.00zM615.00 505.41H616.00V544.50H615.00zM616.00 507.11H617.00V544.50H616.00zM617.00 507.54H618.00V544.50H617.00zM622.00 505.45H623.00V544.50H622.00zM623.00 505.73H624.00V544.50H623.00zM628.00 505.40H629.00V544.50H628.00zM629.00 505.61H630.00V544.50H629.00zM634.00 506.50H635.00V544.50H634.00zM635.00 506.01H636.00V544.50H635.00zM640.00 505.43H641.00V544.50H640.00zM641.00 506.32H642.00V544.50H641.00zM642.00 505.92H643.00V544.50H642.00zM646.00 507.11H647.00V544.50H646.00zM647.00 500.97H648.00V544.50H647.00zM648.00 501.77H649.00V544.50H648.00zM653.00 507.55H654.00V544.50H653.00zM654.00 506.26H655.00V544.50H654.00zM659.00 505.98H660.00V544.50H659.00zM660.00 505.51H661.00V544.50H660.00zM665.00 506.96H666.00V544.50H665.00zM666.00 506.12H667.00V544.50H666.00zM671.00 505.88H672.00V544.50H671.00zM672.00 506.88H673.00V544.50H672.00zM673.00 505.41H674.00V544.50H673.00zM677.00 504.97H678.00V544.50H677.00zM678.00 506.01H679.00V544.50H678.00zM679.00 505.53H680.00V544.50H679.00zM684.00 505.28H685.00V544.50H684.00zM685.00 506.79H686.00V544.50H685.00zM690.00 506.98H691.00V544.50H690.00zM691.00 506.90H692.00V544.50H691.00zM696.00 506.98H697.00V544.50H696.00zM697.00 505.74H698.00V544.50H697.00zM702.00 514.97H703.00V544.50H702.00zM703.00 514.47H704.00V544.50H703.00zM704.00 514.26H705.00V544.50H704.00zM708.00 514.85H709.00V544.50H708.00zM709.00 514.84H710.00V544.50H709.00zM710.00 515.35H711.00V544.50H710.00zM715.00 514.33H716.00V544.50H715.00zM716.00 514.22H717.00V544.50H716.00zM721.00 514.67H722.00V544.50H721.00zM722.00 514.36H723.00V544.50H722.00zM727.00 515.02H728.00V544.50H727.00zM728.00 514.42H729.00V544.50H728.00zM733.00 517.36H734.00V544.50H733.00zM734.00 514.32H735.00V544.50H734.00zM735.00 515.05H736.00V544.50H735.00zM739.00 514.01H740.00V544.50H739.00zM740.00 514.04H741.00V544.50H740.00zM741.00 514.06H742.00V544.50H741.00zM746.00 514.91H747.00V544.50H746.00zM747.00 514.05H748.00V544.50H747.00zM752.00 514.77H753.00V544.50H752.00zM753.00 495.77H754.00V544.50H753.00zM758.00 498.22H759.00V544.50H758.00zM759.00 496.70H760.00V544.50H759.00z"/>
<path fill="#3a3e3f" d="M438.00 434.11H439.00V544.50H438.00zM439.00 442.48H440.00V544.50H439.00zM440.00 432.38H441.00V544.50H440.00zM441.00 439.86H442.00V544.50H441.00zM444.00 342.60H445.00V544.50H444.00zM445.00 342.60H446.00V544.50H445.00zM446.00 423.47H447.00V544.50H446.00zM447.00 426.31H448.00V544.50H447.00zM450.00 468.98H451.00V544.50H450.00zM451.00 471.86H452.00V544.50H451.00zM452.00 482.97H453.00V544.50H452.00zM453.00 482.03H454.00V544.50H453.00zM457.00 482.75H458.00V544.50H457.00zM458.00 479.26H459.00V544.50H458.00zM459.00 484.54H460.00V544.50H459.00zM463.00 483.23H464.00V544.50H463.00zM464.00 483.74H465.00V544.50H464.00zM465.00 483.54H466.00V544.50H465.00zM466.00 482.74H467.00V544.50H466.00zM469.00 482.87H470.00V544.50H469.00zM470.00 479.58H471.00V544.50H470.00zM471.00 478.80H472.00V544.50H471.00zM472.00 483.81H473.00V544.50H472.00zM475.00 428.80H476.00V544.50H475.00zM476.00 430.08H477.00V544.50H476.00zM477.00 429.58H478.00V544.50H477.00zM478.00 446.50H479.00V544.50H478.00zM481.00 446.61H482.00V544.50H481.00zM482.00 438.43H483.00V544.50H482.00zM483.00 447.10H484.00V544.50H483.00zM484.00 470.14H485.00V544.50H484.00zM488.00 472.99H489.00V544.50H488.00zM489.00 470.51H490.00V544.50H489.00zM490.00 489.26H491.00V544.50H490.00zM494.00 489.71H495.00V544.50H494.00zM495.00 495.05H496.00V544.50H495.00zM496.00 497.50H497.00V544.50H496.00zM497.00 499.91H498.00V544.50H497.00zM500.00 497.47H501.00V544.50H500.00zM501.00 492.86H502.00V544.50H501.00zM502.00 498.03H503.00V544.50H502.00zM503.00 496.87H504.00V544.50H503.00zM506.00 492.89H507.00V544.50H506.00zM507.00 491.54H508.00V544.50H507.00zM508.00 495.76H509.00V544.50H508.00zM509.00 491.56H510.00V544.50H509.00zM512.00 496.02H513.00V544.50H512.00zM513.00 489.97H514.00V544.50H513.00zM514.00 493.43H515.00V544.50H514.00zM515.00 489.46H516.00V544.50H515.00zM519.00 488.61H520.00V544.50H519.00zM520.00 490.52H521.00V544.50H520.00zM521.00 488.76H522.00V544.50H521.00zM525.00 499.78H526.00V544.50H525.00zM526.00 499.98H527.00V544.50H526.00zM527.00 490.07H528.00V544.50H527.00zM528.00 491.00H529.00V544.50H528.00zM531.00 496.50H532.00V544.50H531.00zM532.00 495.97H533.00V544.50H532.00zM533.00 501.16H534.00V544.50H533.00zM534.00 494.18H535.00V544.50H534.00zM537.00 500.43H538.00V544.50H537.00zM538.00 490.23H539.00V544.50H538.00zM539.00 495.44H540.00V544.50H539.00zM540.00 494.05H541.00V544.50H540.00zM543.00 494.71H544.00V544.50H543.00zM544.00 500.68H545.00V544.50H544.00zM545.00 497.91H546.00V544.50H545.00zM546.00 495.26H547.00V544.50H546.00zM550.00 494.58H551.00V544.50H550.00zM551.00 498.45H552.00V544.50H551.00zM552.00 500.11H553.00V544.50H552.00zM556.00 497.74H557.00V544.50H556.00zM557.00 490.46H558.00V544.50H557.00zM558.00 501.12H559.00V544.50H558.00zM559.00 493.47H560.00V544.50H559.00zM562.00 491.41H563.00V544.50H562.00zM563.00 496.60H564.00V544.50H563.00zM564.00 498.06H565.00V544.50H564.00zM565.00 490.86H566.00V544.50H565.00zM568.00 495.46H569.00V544.50H568.00zM569.00 493.92H570.00V544.50H569.00zM570.00 494.04H571.00V544.50H570.00zM571.00 497.37H572.00V544.50H571.00zM574.00 496.11H575.00V544.50H574.00zM575.00 495.59H576.00V544.50H575.00zM576.00 490.27H577.00V544.50H576.00zM577.00 490.22H578.00V544.50H577.00zM581.00 493.69H582.00V544.50H581.00zM582.00 497.80H583.00V544.50H582.00zM583.00 495.34H584.00V544.50H583.00zM587.00 497.48H588.00V544.50H587.00zM588.00 499.03H589.00V544.50H588.00zM589.00 497.42H590.00V544.50H589.00zM590.00 499.40H591.00V544.50H590.00zM593.00 496.70H594.00V544.50H593.00zM594.00 497.49H595.00V544.50H594.00zM595.00 496.05H596.00V544.50H595.00zM596.00 498.91H597.00V544.50H596.00zM599.00 499.87H600.00V544.50H599.00zM600.00 498.73H601.00V544.50H600.00zM601.00 498.42H602.00V544.50H601.00zM602.00 506.01H603.00V544.50H602.00zM605.00 505.96H606.00V544.50H605.00zM606.00 506.97H607.00V544.50H606.00zM607.00 505.78H608.00V544.50H607.00zM608.00 507.29H609.00V544.50H608.00zM612.00 506.37H613.00V544.50H612.00zM613.00 505.68H614.00V544.50H613.00zM614.00 506.24H615.00V544.50H614.00zM618.00 506.88H619.00V544.50H618.00zM619.00 505.75H620.00V544.50H619.00zM620.00 507.40H621.00V544.50H620.00zM621.00 506.78H622.00V544.50H621.00zM624.00 505.81H625.00V544.50H624.00zM625.00 506.91H626.00V544.50H625.00zM626.00 506.60H627.00V544.50H626.00zM627.00 506.19H628.00V544.50H627.00zM630.00 506.47H631.00V544.50H630.00zM631.00 505.85H632.00V544.50H631.00zM632.00 506.96H633.00V544.50H632.00zM633.00 505.60H634.00V544.50H633.00zM636.00 505.98H637.00V544.50H636.00zM637.00 506.81H638.00V544.50H637.00zM638.00 505.64H639.00V544.50H638.00zM639.00 506.77H640.00V544.50H639.00zM643.00 506.30H644.00V544.50H643.00zM644.00 506.97H645.00V544.50H644.00zM645.00 506.13H646.00V544.50H645.00zM649.00 501.94H650.00V544.50H649.00zM650.00 501.85H651.00V544.50H650.00zM651.00 507.17H652.00V544.50H651.00zM652.00 506.98H653.00V544.50H652.00zM655.00 506.68H656.00V544.50H655.00zM656.00 507.12H657.00V544.50H656.00zM657.00 506.55H658.00V544.50H657.00zM658.00 507.41H659.00V544.50H658.00zM661.00 506.77H662.00V544.50H661.00zM662.00 507.59H663.00V544.50H662.00zM663.00 507.46H664.00V544.50H663.00zM664.00 507.04H665.00V544.50H664.00zM667.00 507.61H668.00V544.50H667.00zM668.00 506.89H669.00V544.50H668.00zM669.00 507.21H670.00V544.50H669.00zM670.00 507.02H671.00V544.50H670.00zM674.00 504.96H675.00V544.50H674.00zM675.00 506.39H676.00V544.50H675.00zM676.00 506.46H677.00V544.50H676.00zM680.00 506.43H681.00V544.50H680.00zM681.00 505.38H682.00V544.50H681.00zM682.00 506.05H683.00V544.50H682.00zM683.00 506.49H684.00V544.50H683.00zM686.00 505.04H687.00V544.50H686.00zM687.00 505.29H688.00V544.50H687.00zM688.00 506.44H689.00V544.50H688.00zM689.00 506.89H690.00V544.50H689.00zM692.00 505.06H693.00V544.50H692.00zM693.00 505.33H694.00V544.50H693.00zM694.00 505.62H695.00V544.50H694.00zM695.00 504.99H696.00V544.50H695.00zM698.00 514.57H699.00V544.50H698.00zM699.00 514.33H700.00V544.50H699.00zM700.00 514.44H701.00V544.50H700.00zM701.00 515.25H702.00V544.50H701.00zM705.00 514.36H706.00V544.50H705.00zM706.00 514.63H707.00V544.50H706.00zM707.00 514.50H708.00V544.50H707.00zM711.00 515.12H712.00V544.50H711.00zM712.00 514.54H713.00V544.50H712.00zM713.00 515.29H714.00V544.50H713.00zM714.00 515.19H715.00V544.50H714.00zM717.00 514.78H718.00V544.50H717.00zM718.00 514.80H719.00V544.50H718.00zM719.00 515.10H720.00V544.50H719.00zM720.00 515.32H721.00V544.50H720.00zM723.00 514.72H724.00V544.50H723.00zM724.00 515.23H725.00V544.50H724.00zM725.00 515.18H726.00V544.50H725.00zM726.00 514.45H727.00V544.50H726.00zM729.00 514.97H730.00V544.50H729.00zM730.00 514.92H731.00V544.50H730.00zM731.00 517.36H732.00V544.50H731.00zM732.00 517.36H733.00V544.50H732.00zM736.00 514.22H737.00V544.50H736.00zM737.00 515.06H738.00V544.50H737.00zM738.00 514.43H739.00V544.50H738.00zM742.00 514.87H743.00V544.50H742.00zM743.00 513.98H744.00V544.50H743.00zM744.00 514.46H745.00V544.50H744.00zM745.00 515.05H746.00V544.50H745.00zM748.00 514.43H749.00V544.50H748.00zM749.00 514.47H750.00V544.50H749.00zM750.00 514.29H751.00V544.50H750.00zM751.00 514.62H752.00V544.50H751.00zM754.00 496.88H755.00V544.50H754.00zM755.00 495.62H756.00V544.50H755.00zM756.00 496.90H757.00V544.50H756.00zM757.00 496.99H758.00V544.50H757.00zM760.00 496.34H761.00V544.50H760.00zM761.00 498.23H762.00V544.50H761.00z"/>
</g>
<rect x="437.50" y="296.50" width="324.00" height="248.00" fill="none" stroke="#000" stroke-width="0.9"/>
<text x="418.33" y="551.80" font-size="21.50" textLength="11.67" lengthAdjust="spacingAndGlyphs">0</text>
<text x="418.28" y="508.38" font-size="21.50" textLength="11.24" lengthAdjust="spacingAndGlyphs">2</text>
<text x="418.33" y="464.96" font-size="21.50" textLength="11.66" lengthAdjust="spacingAndGlyphs">4</text>
<text x="418.12" y="421.54" font-size="21.50" textLength="12.08" lengthAdjust="spacingAndGlyphs">6</text>
<text x="418.28" y="378.12" font-size="21.50" textLength="11.77" lengthAdjust="spacingAndGlyphs">8</text>
<text x="405.70" y="334.70" font-size="21.50" textLength="24.33" lengthAdjust="spacingAndGlyphs">10</text>
<path stroke="#000" stroke-width="0.9" d="M434.00 544.50h3.50M434.00 501.08h3.50M434.00 457.66h3.50M434.00 414.24h3.50M434.00 370.82h3.50M434.00 327.40h3.50"/>
<text x="431.56" y="566.50" font-size="21.50" textLength="11.67" lengthAdjust="spacingAndGlyphs">0</text>
<text x="502.05" y="566.50" font-size="21.50" textLength="37.20" lengthAdjust="spacingAndGlyphs">200</text>
<text x="585.47" y="566.50" font-size="21.50" textLength="37.07" lengthAdjust="spacingAndGlyphs">400</text>
<text x="668.56" y="566.50" font-size="21.50" textLength="37.28" lengthAdjust="spacingAndGlyphs">600</text>
<path stroke="#000" stroke-width="0.9" d="M437.40 544.50v3.50M520.70 544.50v3.50M604.00 544.50v3.50M687.30 544.50v3.50"/>
<path stroke="#c8c8c8" stroke-width="0.8" d="M586.02 317.00v16.00"/>
<text x="603.33" y="331.50" font-size="22.40" textLength="138.39" lengthAdjust="spacingAndGlyphs">aug-cc-pVDZ</text>
<clipPath id="cl2"><rect x="77.50" y="576.50" width="324.00" height="249.00"/></clipPath>
<path clip-path="url(#cl2)" fill="#000" d="M76.72 773.02h1.80V825.50h-1.80zM80.44 773.02h1.80V825.50h-1.80zM84.15 773.02h1.80V825.50h-1.80zM87.87 773.02h1.80V825.50h-1.80zM91.59 773.02h1.80V825.50h-1.80zM95.31 773.02h1.80V825.50h-1.80zM99.03 773.02h1.80V825.50h-1.80zM102.74 773.02h1.80V825.50h-1.80zM106.46 773.02h1.80V825.50h-1.80zM110.18 773.02h1.80V825.50h-1.80zM113.90 773.02h1.80V825.50h-1.80zM117.62 773.02h1.80V825.50h-1.80zM121.33 773.02h1.80V825.50h-1.80zM125.05 773.02h1.80V825.50h-1.80zM128.77 773.02h1.80V825.50h-1.80zM132.49 773.02h1.80V825.50h-1.80zM136.21 773.02h1.80V825.50h-1.80zM139.92 773.02h1.80V825.50h-1.80zM143.64 773.02h1.80V825.50h-1.80zM147.36 773.02h1.80V825.50h-1.80zM151.08 786.25h1.80V825.50h-1.80zM154.80 786.25h1.80V825.50h-1.80zM158.51 625.29h1.80V825.50h-1.80zM162.23 619.11h1.80V825.50h-1.80zM165.95 607.06h1.80V825.50h-1.80zM169.67 589.42h1.80V825.50h-1.80zM173.39 589.71h1.80V825.50h-1.80zM177.10 589.71h1.80V825.50h-1.80zM180.82 592.06h1.80V825.50h-1.80zM184.54 589.71h1.80V825.50h-1.80zM188.26 592.06h1.80V825.50h-1.80zM191.98 589.71h1.80V825.50h-1.80zM195.69 591.03h1.80V825.50h-1.80zM199.41 593.09h1.80V825.50h-1.80zM203.13 626.17h1.80V825.50h-1.80zM206.85 593.53h1.80V825.50h-1.80zM210.57 619.11h1.80V825.50h-1.80zM214.28 592.06h1.80V825.50h-1.80zM218.00 592.06h1.80V825.50h-1.80zM221.72 592.06h1.80V825.50h-1.80zM225.44 592.06h1.80V825.50h-1.80zM229.16 592.06h1.80V825.50h-1.80zM232.87 592.06h1.80V825.50h-1.80zM236.59 592.06h1.80V825.50h-1.80zM240.31 592.06h1.80V825.50h-1.80zM244.03 591.48h1.80V825.50h-1.80zM247.75 635.43h1.80V825.50h-1.80zM251.46 615.14h1.80V825.50h-1.80zM255.18 636.75h1.80V825.50h-1.80zM258.90 593.53h1.80V825.50h-1.80zM262.62 592.50h1.80V825.50h-1.80zM266.34 592.50h1.80V825.50h-1.80zM270.05 592.50h1.80V825.50h-1.80zM273.77 592.50h1.80V825.50h-1.80zM277.49 592.50h1.80V825.50h-1.80zM281.21 592.50h1.80V825.50h-1.80zM284.93 592.50h1.80V825.50h-1.80zM288.64 592.50h1.80V825.50h-1.80zM292.36 592.50h1.80V825.50h-1.80zM296.08 592.50h1.80V825.50h-1.80zM299.80 592.50h1.80V825.50h-1.80zM303.52 592.50h1.80V825.50h-1.80zM307.23 592.50h1.80V825.50h-1.80zM310.95 592.50h1.80V825.50h-1.80zM314.67 592.50h1.80V825.50h-1.80zM318.39 592.50h1.80V825.50h-1.80zM322.11 591.48h1.80V825.50h-1.80zM325.82 592.50h1.80V825.50h-1.80zM329.54 592.50h1.80V825.50h-1.80zM333.26 592.50h1.80V825.50h-1.80zM336.98 589.86h1.80V825.50h-1.80zM340.70 592.50h1.80V825.50h-1.80zM344.41 589.86h1.80V825.50h-1.80zM348.13 592.50h1.80V825.50h-1.80zM351.85 592.50h1.80V825.50h-1.80zM355.57 591.77h1.80V825.50h-1.80zM359.29 588.83h1.80V825.50h-1.80zM363.00 592.50h1.80V825.50h-1.80zM366.72 592.50h1.80V825.50h-1.80zM370.44 589.86h1.80V825.50h-1.80zM374.16 589.86h1.80V825.50h-1.80zM377.88 589.86h1.80V825.50h-1.80zM381.59 589.86h1.80V825.50h-1.80zM385.31 615.14h1.80V825.50h-1.80zM389.03 589.86h1.80V825.50h-1.80zM392.75 589.86h1.80V825.50h-1.80zM396.47 589.86h1.80V825.50h-1.80zM400.18 589.86h1.80V825.50h-1.80z"/>
<rect x="77.50" y="576.50" width="324.00" height="249.00" fill="none" stroke="#000" stroke-width="0.9"/>
<text x="39.30" y="832.80" font-size="21.50" textLength="30.74" lengthAdjust="spacingAndGlyphs">0.0</text>
<text x="39.31" y="759.30" font-size="21.50" textLength="30.37" lengthAdjust="spacingAndGlyphs">0.5</text>
<text x="39.36" y="685.80" font-size="21.50" textLength="30.68" lengthAdjust="spacingAndGlyphs">1.0</text>
<text x="39.38" y="612.30" font-size="21.50" textLength="30.30" lengthAdjust="spacingAndGlyphs">1.5</text>
<path stroke="#000" stroke-width="0.9" d="M74.00 825.50h3.50M74.00 752.00h3.50M74.00 678.50h3.50M74.00 605.00h3.50"/>
<text x="135.95" y="847.50" font-size="21.50" textLength="24.52" lengthAdjust="spacingAndGlyphs">20</text>
<text x="210.43" y="847.50" font-size="21.50" textLength="24.39" lengthAdjust="spacingAndGlyphs">40</text>
<text x="284.58" y="847.50" font-size="21.50" textLength="24.60" lengthAdjust="spacingAndGlyphs">60</text>
<text x="359.09" y="847.50" font-size="21.50" textLength="24.46" lengthAdjust="spacingAndGlyphs">80</text>
<path stroke="#000" stroke-width="0.9" d="M148.26 825.50v3.50M222.62 825.50v3.50M296.98 825.50v3.50M371.34 825.50v3.50"/>
<text transform="translate(29.6 749.20) rotate(-90)" font-size="22.3" font-style="italic">&#963;</text>
<text transform="translate(32.9 735.40) rotate(-90)" font-size="15.5">2</text>
<text transform="translate(29.6 718.80) rotate(-90)" font-size="22.4" textLength="66.3" lengthAdjust="spacingAndGlyphs">[bohr]</text>
<clipPath id="cr2"><rect x="437.50" y="576.50" width="324.00" height="249.00"/></clipPath>
<g clip-path="url(#cr2)">
<path fill="#d0d1d1" d="M440.00 667.78H441.00V825.50H440.00zM442.00 687.09H443.00V825.50H442.00zM447.00 667.35H448.00V825.50H447.00zM451.00 657.66H452.00V825.50H451.00zM465.00 657.75H466.00V825.50H465.00zM466.00 707.72H467.00V825.50H466.00zM473.00 715.02H474.00V825.50H473.00zM475.00 689.84H476.00V825.50H475.00zM501.00 693.93H502.00V825.50H501.00zM503.00 681.95H504.00V825.50H503.00zM505.00 702.80H506.00V825.50H505.00zM507.00 680.92H508.00V825.50H507.00zM509.00 736.14H510.00V825.50H509.00zM516.00 731.98H517.00V825.50H516.00z"/>
<path fill="#b8baba" d="M456.00 673.79H457.00V825.50H456.00zM458.00 659.89H459.00V825.50H458.00zM460.00 662.50H461.00V825.50H460.00zM469.00 720.32H470.00V825.50H469.00zM470.00 708.74H471.00V825.50H470.00zM472.00 694.91H473.00V825.50H472.00zM476.00 693.14H477.00V825.50H476.00zM484.00 699.84H485.00V825.50H484.00zM488.00 721.46H489.00V825.50H488.00zM494.00 730.11H495.00V825.50H494.00zM502.00 682.83H503.00V825.50H502.00zM521.00 751.16H522.00V825.50H521.00z"/>
<path fill="#b0b2b2" d="M452.90 594.81H453.90V825.50H452.90zM457.00 588.91H458.00V825.50H457.00zM448.50 640.40H449.50V825.50H448.50zM438.50 653.76H439.50V825.50H438.50zM469.70 654.55H470.70V825.50H469.70zM505.40 684.02H506.40V825.50H505.40zM525.50 684.02H526.50V825.50H525.50zM521.50 695.81H522.50V825.50H521.50zM582.10 727.64H583.10V825.50H582.10zM644.70 735.50H645.70V825.50H644.70zM687.80 771.27H688.80V825.50H687.80zM702.50 772.45H703.50V825.50H702.50zM759.50 752.79H760.50V825.50H759.50z"/>
<path fill="#7a7e7e" d="M459.00 593.63H460.00V825.50H459.00zM445.10 654.55H446.10V825.50H445.10zM467.90 652.58H468.90V825.50H467.90zM501.50 650.62H502.50V825.50H501.50zM524.90 681.66H525.90V825.50H524.90zM540.50 708.78H541.50V825.50H540.50zM610.00 742.18H611.00V825.50H610.00zM650.10 750.83H651.10V825.50H650.10z"/>
<path fill="#3a3e3f" d="M437.40 707.60H438.40V825.50H437.40zM474.10 654.55H475.10V825.50H474.10zM533.90 681.66H534.90V825.50H533.90z"/>
<path fill="#5a5e5e" d="M437.00 665.56H438.00V825.50H437.00zM442.00 701.50H443.00V825.50H442.00zM460.00 699.30H461.00V825.50H460.00zM461.00 704.05H462.00V825.50H461.00zM465.00 765.74H466.00V825.50H465.00zM474.00 697.06H475.00V825.50H474.00zM477.00 700.97H478.00V825.50H477.00zM485.00 712.60H486.00V825.50H485.00zM494.00 734.21H495.00V825.50H494.00zM497.00 692.23H498.00V825.50H497.00zM499.00 699.49H500.00V825.50H499.00zM524.00 703.08H525.00V825.50H524.00zM531.00 754.93H532.00V825.50H531.00zM534.00 733.71H535.00V825.50H534.00zM536.00 738.39H537.00V825.50H536.00zM539.00 751.38H540.00V825.50H539.00zM554.00 778.16H555.00V825.50H554.00zM561.00 750.23H562.00V825.50H561.00zM568.00 751.79H569.00V825.50H568.00zM569.00 748.96H570.00V825.50H569.00zM573.00 755.32H574.00V825.50H573.00zM585.00 749.09H586.00V825.50H585.00zM597.00 759.08H598.00V825.50H597.00zM598.00 752.75H599.00V825.50H598.00zM600.00 752.89H601.00V825.50H600.00zM601.00 758.34H602.00V825.50H601.00zM605.00 754.34H606.00V825.50H605.00zM617.00 756.34H618.00V825.50H617.00zM625.00 753.83H626.00V825.50H625.00zM633.00 756.59H634.00V825.50H633.00zM638.00 759.14H639.00V825.50H638.00zM715.00 775.11H716.00V825.50H715.00zM732.00 772.34H733.00V825.50H732.00z"/>
<path fill="#9a9d9d" d="M438.00 706.97H439.00V825.50H438.00zM439.00 709.32H440.00V825.50H439.00zM443.00 708.78H444.00V825.50H443.00zM448.00 697.66H449.00V825.50H448.00zM450.00 697.01H451.00V825.50H450.00zM451.00 699.91H452.00V825.50H451.00zM454.00 711.03H455.00V825.50H454.00zM455.00 701.67H456.00V825.50H455.00zM456.00 701.30H457.00V825.50H456.00zM457.00 700.46H458.00V825.50H457.00zM468.00 726.20H469.00V825.50H468.00zM475.00 692.41H476.00V825.50H475.00zM478.00 704.73H479.00V825.50H478.00zM479.00 696.93H480.00V825.50H479.00zM481.00 696.17H482.00V825.50H481.00zM488.00 723.52H489.00V825.50H488.00zM504.00 686.05H505.00V825.50H504.00zM509.00 740.23H510.00V825.50H509.00zM516.00 734.39H517.00V825.50H516.00zM522.00 698.50H523.00V825.50H522.00zM523.00 703.60H524.00V825.50H523.00zM525.00 732.06H526.00V825.50H525.00zM547.00 750.80H548.00V825.50H547.00zM548.00 753.88H549.00V825.50H548.00zM567.00 751.48H568.00V825.50H567.00zM577.00 750.44H578.00V825.50H577.00zM580.00 748.14H581.00V825.50H580.00zM590.00 750.17H591.00V825.50H590.00zM593.00 754.94H594.00V825.50H593.00zM612.00 753.92H613.00V825.50H612.00zM667.00 770.89H668.00V825.50H667.00zM700.00 772.18H701.00V825.50H700.00zM753.00 752.93H754.00V825.50H753.00zM760.00 754.76H761.00V825.50H760.00z"/>
<path fill="#7a7e7e" d="M441.00 710.14H442.00V825.50H441.00zM444.00 710.27H445.00V825.50H444.00zM452.00 709.35H453.00V825.50H452.00zM458.00 700.49H459.00V825.50H458.00zM459.00 698.73H460.00V825.50H459.00zM476.00 696.76H477.00V825.50H476.00zM484.00 701.91H485.00V825.50H484.00zM493.00 736.82H494.00V825.50H493.00zM498.00 692.73H499.00V825.50H498.00zM501.00 698.91H502.00V825.50H501.00zM502.00 683.08H503.00V825.50H502.00zM503.00 684.04H504.00V825.50H503.00zM506.00 698.61H507.00V825.50H506.00zM507.00 698.66H508.00V825.50H507.00zM517.00 739.88H518.00V825.50H517.00zM537.00 731.43H538.00V825.50H537.00zM538.00 731.62H539.00V825.50H538.00zM542.00 750.08H543.00V825.50H542.00zM574.00 753.76H575.00V825.50H574.00zM579.00 751.27H580.00V825.50H579.00zM581.00 756.18H582.00V825.50H581.00zM620.00 756.21H621.00V825.50H620.00zM632.00 754.71H633.00V825.50H632.00zM678.00 770.40H679.00V825.50H678.00zM712.00 771.99H713.00V825.50H712.00zM751.00 756.88H752.00V825.50H751.00zM754.00 750.43H755.00V825.50H754.00zM758.00 755.64H759.00V825.50H758.00z"/>
<path fill="#343839" d="M437.00 711.96H438.00V825.50H437.00zM438.00 740.46H439.00V825.50H438.00zM439.00 736.86H440.00V825.50H439.00zM440.00 736.94H441.00V825.50H440.00zM441.00 743.41H442.00V825.50H441.00zM444.00 743.64H445.00V825.50H444.00zM445.00 743.25H446.00V825.50H445.00zM446.00 737.40H447.00V825.50H446.00zM447.00 743.19H448.00V825.50H447.00zM448.00 739.35H449.00V825.50H448.00zM449.00 738.48H450.00V825.50H449.00zM452.00 743.26H453.00V825.50H452.00zM453.00 741.08H454.00V825.50H453.00zM454.00 737.64H455.00V825.50H454.00zM455.00 744.39H456.00V825.50H455.00zM456.00 739.70H457.00V825.50H456.00zM457.00 738.83H458.00V825.50H457.00zM458.00 738.83H459.00V825.50H458.00zM459.00 742.74H460.00V825.50H459.00zM460.00 744.05H461.00V825.50H460.00zM461.00 737.53H462.00V825.50H461.00zM463.00 769.49H464.00V825.50H463.00zM468.00 726.20H469.00V825.50H468.00zM470.00 723.91H471.00V825.50H470.00zM471.00 732.48H472.00V825.50H471.00zM472.00 728.78H473.00V825.50H472.00zM473.00 729.74H474.00V825.50H473.00zM475.00 723.83H476.00V825.50H475.00zM476.00 727.26H477.00V825.50H476.00zM477.00 730.71H478.00V825.50H477.00zM480.00 699.31H481.00V825.50H480.00zM481.00 696.17H482.00V825.50H481.00zM482.00 697.41H483.00V825.50H482.00zM484.00 729.70H485.00V825.50H484.00zM485.00 732.05H486.00V825.50H485.00zM487.00 731.52H488.00V825.50H487.00zM488.00 733.23H489.00V825.50H488.00zM489.00 730.84H490.00V825.50H489.00zM491.00 741.73H492.00V825.50H491.00zM492.00 738.50H493.00V825.50H492.00zM493.00 741.34H494.00V825.50H493.00zM494.00 739.78H495.00V825.50H494.00zM495.00 740.34H496.00V825.50H495.00zM496.00 742.23H497.00V825.50H496.00zM498.00 733.45H499.00V825.50H498.00zM501.00 730.65H502.00V825.50H501.00zM504.00 727.78H505.00V825.50H504.00zM505.00 726.58H506.00V825.50H505.00zM507.00 730.09H508.00V825.50H507.00zM508.00 736.13H509.00V825.50H508.00zM509.00 740.23H510.00V825.50H509.00zM510.00 736.39H511.00V825.50H510.00zM511.00 740.96H512.00V825.50H511.00zM512.00 741.58H513.00V825.50H512.00zM513.00 737.51H514.00V825.50H513.00zM514.00 737.34H515.00V825.50H514.00zM515.00 740.00H516.00V825.50H515.00zM516.00 737.55H517.00V825.50H516.00zM517.00 744.00H518.00V825.50H517.00zM518.00 736.73H519.00V825.50H518.00zM519.00 739.13H520.00V825.50H519.00zM520.00 737.91H521.00V825.50H520.00zM524.00 759.41H525.00V825.50H524.00zM529.00 767.02H530.00V825.50H529.00zM536.00 751.49H537.00V825.50H536.00zM542.00 752.05H543.00V825.50H542.00zM543.00 748.38H544.00V825.50H543.00zM544.00 751.60H545.00V825.50H544.00zM545.00 754.69H546.00V825.50H545.00zM546.00 752.81H547.00V825.50H546.00zM547.00 755.06H548.00V825.50H547.00zM548.00 754.91H549.00V825.50H548.00zM549.00 749.12H550.00V825.50H549.00zM552.00 779.15H553.00V825.50H552.00zM557.00 749.48H558.00V825.50H557.00zM558.00 753.80H559.00V825.50H558.00zM561.00 750.23H562.00V825.50H561.00zM562.00 756.09H563.00V825.50H562.00zM567.00 751.48H568.00V825.50H567.00zM569.00 752.17H570.00V825.50H569.00zM570.00 755.57H571.00V825.50H570.00zM572.00 755.71H573.00V825.50H572.00zM573.00 756.20H574.00V825.50H573.00zM574.00 753.76H575.00V825.50H574.00zM575.00 750.37H576.00V825.50H575.00zM578.00 752.41H579.00V825.50H578.00zM580.00 755.05H581.00V825.50H580.00zM582.00 753.10H583.00V825.50H582.00zM584.00 750.87H585.00V825.50H584.00zM585.00 749.09H586.00V825.50H585.00zM586.00 749.90H587.00V825.50H586.00zM588.00 753.79H589.00V825.50H588.00zM589.00 755.98H590.00V825.50H589.00zM590.00 750.17H591.00V825.50H590.00zM601.00 762.91H602.00V825.50H601.00zM604.00 759.69H605.00V825.50H604.00zM606.00 764.19H607.00V825.50H606.00zM609.00 761.04H610.00V825.50H609.00zM624.00 765.34H625.00V825.50H624.00zM636.00 762.78H637.00V825.50H636.00zM637.00 758.03H638.00V825.50H637.00zM638.00 759.14H639.00V825.50H638.00zM639.00 761.10H640.00V825.50H639.00zM640.00 761.13H641.00V825.50H640.00zM642.00 763.00H643.00V825.50H642.00zM646.00 762.37H647.00V825.50H646.00zM647.00 759.86H648.00V825.50H647.00zM648.00 760.77H649.00V825.50H648.00zM649.00 762.64H650.00V825.50H649.00zM689.00 781.60H690.00V825.50H689.00zM712.00 781.27H713.00V825.50H712.00zM740.00 748.75H741.00V825.50H740.00zM747.00 748.30H748.00V825.50H747.00zM752.00 754.84H753.00V825.50H752.00zM755.00 752.40H756.00V825.50H755.00zM757.00 749.43H758.00V825.50H757.00zM759.00 750.56H760.00V825.50H759.00z"/>
<path fill="#222627" d="M437.00 771.92H438.00V825.50H437.00zM440.00 773.15H441.00V825.50H440.00zM441.00 770.63H442.00V825.50H441.00zM443.00 768.95H444.00V825.50H443.00zM444.00 770.01H445.00V825.50H444.00zM447.00 771.66H448.00V825.50H447.00zM448.00 768.30H449.00V825.50H448.00zM450.00 770.45H451.00V825.50H450.00zM451.00 768.01H452.00V825.50H451.00zM454.00 770.86H455.00V825.50H454.00zM455.00 771.37H456.00V825.50H455.00zM458.00 771.23H459.00V825.50H458.00zM459.00 771.53H460.00V825.50H459.00zM461.00 768.36H462.00V825.50H461.00zM462.00 769.44H463.00V825.50H462.00zM465.00 772.40H466.00V825.50H465.00zM466.00 770.95H467.00V825.50H466.00zM468.00 767.89H469.00V825.50H468.00zM469.00 768.30H470.00V825.50H469.00zM472.00 771.30H473.00V825.50H472.00zM473.00 768.70H474.00V825.50H473.00zM476.00 772.37H477.00V825.50H476.00zM477.00 772.53H478.00V825.50H477.00zM479.00 772.94H480.00V825.50H479.00zM480.00 773.13H481.00V825.50H480.00zM483.00 768.35H484.00V825.50H483.00zM484.00 770.13H485.00V825.50H484.00zM486.00 769.53H487.00V825.50H486.00zM487.00 768.84H488.00V825.50H487.00zM490.00 769.93H491.00V825.50H490.00zM491.00 771.17H492.00V825.50H491.00zM494.00 770.39H495.00V825.50H494.00zM495.00 768.55H496.00V825.50H495.00zM497.00 771.76H498.00V825.50H497.00zM498.00 768.97H499.00V825.50H498.00zM501.00 771.97H502.00V825.50H501.00zM502.00 772.47H503.00V825.50H502.00zM504.00 773.19H505.00V825.50H504.00zM505.00 770.54H506.00V825.50H505.00zM508.00 769.53H509.00V825.50H508.00zM509.00 769.28H510.00V825.50H509.00zM512.00 772.26H513.00V825.50H512.00zM513.00 769.16H514.00V825.50H513.00zM515.00 771.40H516.00V825.50H515.00zM516.00 768.57H517.00V825.50H516.00zM519.00 771.62H520.00V825.50H519.00zM520.00 771.49H521.00V825.50H520.00zM522.00 774.46H523.00V825.50H522.00zM523.00 774.19H524.00V825.50H523.00zM526.00 773.73H527.00V825.50H526.00zM527.00 774.55H528.00V825.50H527.00zM530.00 765.54H531.00V825.50H530.00zM531.00 766.93H532.00V825.50H531.00zM533.00 767.68H534.00V825.50H533.00zM534.00 767.01H535.00V825.50H534.00zM537.00 767.72H538.00V825.50H537.00zM538.00 768.20H539.00V825.50H538.00zM540.00 767.91H541.00V825.50H540.00zM541.00 767.29H542.00V825.50H541.00zM544.00 765.91H545.00V825.50H544.00zM545.00 766.52H546.00V825.50H545.00zM548.00 767.14H549.00V825.50H548.00zM549.00 765.00H550.00V825.50H549.00zM551.00 781.08H552.00V825.50H551.00zM552.00 780.29H553.00V825.50H552.00zM555.00 780.39H556.00V825.50H555.00zM556.00 781.85H557.00V825.50H556.00zM558.00 768.15H559.00V825.50H558.00zM559.00 767.51H560.00V825.50H559.00zM562.00 765.28H563.00V825.50H562.00zM563.00 781.27H564.00V825.50H563.00zM566.00 781.19H567.00V825.50H566.00zM567.00 776.87H568.00V825.50H567.00zM569.00 768.33H570.00V825.50H569.00zM570.00 778.00H571.00V825.50H570.00zM573.00 773.34H574.00V825.50H573.00zM574.00 776.93H575.00V825.50H574.00zM576.00 775.10H577.00V825.50H576.00zM577.00 774.57H578.00V825.50H577.00zM580.00 776.89H581.00V825.50H580.00zM581.00 780.29H582.00V825.50H581.00zM584.00 770.59H585.00V825.50H584.00zM585.00 771.68H586.00V825.50H585.00zM587.00 774.30H588.00V825.50H587.00zM588.00 778.47H589.00V825.50H588.00zM591.00 765.58H592.00V825.50H591.00zM592.00 767.32H593.00V825.50H592.00zM594.00 768.21H595.00V825.50H594.00zM595.00 767.33H596.00V825.50H595.00zM598.00 764.99H599.00V825.50H598.00zM599.00 767.20H600.00V825.50H599.00zM602.00 764.87H603.00V825.50H602.00zM603.00 766.69H604.00V825.50H603.00zM605.00 766.67H606.00V825.50H605.00zM606.00 767.70H607.00V825.50H606.00zM609.00 767.80H610.00V825.50H609.00zM610.00 767.64H611.00V825.50H610.00zM612.00 765.83H613.00V825.50H612.00zM613.00 766.75H614.00V825.50H613.00zM616.00 765.28H617.00V825.50H616.00zM617.00 767.86H618.00V825.50H617.00zM620.00 766.41H621.00V825.50H620.00zM621.00 766.32H622.00V825.50H621.00zM623.00 767.11H624.00V825.50H623.00zM624.00 766.19H625.00V825.50H624.00zM627.00 766.81H628.00V825.50H627.00zM628.00 765.30H629.00V825.50H628.00zM630.00 765.25H631.00V825.50H630.00zM631.00 766.53H632.00V825.50H631.00zM634.00 766.41H635.00V825.50H634.00zM635.00 765.39H636.00V825.50H635.00zM638.00 768.02H639.00V825.50H638.00zM639.00 767.82H640.00V825.50H639.00zM641.00 768.09H642.00V825.50H641.00zM642.00 765.31H643.00V825.50H642.00zM645.00 766.49H646.00V825.50H645.00zM646.00 765.39H647.00V825.50H646.00zM648.00 766.29H649.00V825.50H648.00zM649.00 766.49H650.00V825.50H649.00zM652.00 782.18H653.00V825.50H652.00zM653.00 780.88H654.00V825.50H653.00zM656.00 781.76H657.00V825.50H656.00zM657.00 782.00H658.00V825.50H657.00zM659.00 781.96H660.00V825.50H659.00zM660.00 781.62H661.00V825.50H660.00zM663.00 781.68H664.00V825.50H663.00zM664.00 781.27H665.00V825.50H664.00zM666.00 782.11H667.00V825.50H666.00zM667.00 780.74H668.00V825.50H667.00zM670.00 780.89H671.00V825.50H670.00zM671.00 781.17H672.00V825.50H671.00zM674.00 781.09H675.00V825.50H674.00zM675.00 781.65H676.00V825.50H675.00zM677.00 782.19H678.00V825.50H677.00zM678.00 781.46H679.00V825.50H678.00zM681.00 780.99H682.00V825.50H681.00zM682.00 781.91H683.00V825.50H682.00zM684.00 781.78H685.00V825.50H684.00zM685.00 782.29H686.00V825.50H685.00zM688.00 781.88H689.00V825.50H688.00zM689.00 781.60H690.00V825.50H689.00zM692.00 782.16H693.00V825.50H692.00zM693.00 781.61H694.00V825.50H693.00zM695.00 782.22H696.00V825.50H695.00zM696.00 781.26H697.00V825.50H696.00zM699.00 781.77H700.00V825.50H699.00zM700.00 782.29H701.00V825.50H700.00zM702.00 781.99H703.00V825.50H702.00zM703.00 780.64H704.00V825.50H703.00zM706.00 781.69H707.00V825.50H706.00zM707.00 781.24H708.00V825.50H707.00zM710.00 781.97H711.00V825.50H710.00zM711.00 782.24H712.00V825.50H711.00zM713.00 782.28H714.00V825.50H713.00zM714.00 781.84H715.00V825.50H714.00zM717.00 782.12H718.00V825.50H717.00zM718.00 780.86H719.00V825.50H718.00zM720.00 780.99H721.00V825.50H720.00zM721.00 781.80H722.00V825.50H721.00zM724.00 781.31H725.00V825.50H724.00zM725.00 781.66H726.00V825.50H725.00zM728.00 780.93H729.00V825.50H728.00zM729.00 781.44H730.00V825.50H729.00zM731.00 781.66H732.00V825.50H731.00zM732.00 781.29H733.00V825.50H732.00zM735.00 782.15H736.00V825.50H735.00zM736.00 746.98H737.00V825.50H736.00zM738.00 748.26H739.00V825.50H738.00zM739.00 746.69H740.00V825.50H739.00zM742.00 748.69H743.00V825.50H742.00zM743.00 748.39H744.00V825.50H743.00zM746.00 746.82H747.00V825.50H746.00zM747.00 748.30H748.00V825.50H747.00zM749.00 747.57H750.00V825.50H749.00zM750.00 773.72H751.00V825.50H750.00zM753.00 772.00H754.00V825.50H753.00zM754.00 772.39H755.00V825.50H754.00zM756.00 772.50H757.00V825.50H756.00zM757.00 773.12H758.00V825.50H757.00zM760.00 772.88H761.00V825.50H760.00zM761.00 772.47H762.00V825.50H761.00z"/>
<path fill="#414546" d="M438.00 768.23H439.00V825.50H438.00zM439.00 770.61H440.00V825.50H439.00zM442.00 770.06H443.00V825.50H442.00zM445.00 769.54H446.00V825.50H445.00zM446.00 770.10H447.00V825.50H446.00zM449.00 772.98H450.00V825.50H449.00zM452.00 771.25H453.00V825.50H452.00zM453.00 769.95H454.00V825.50H453.00zM456.00 772.90H457.00V825.50H456.00zM457.00 767.98H458.00V825.50H457.00zM460.00 772.70H461.00V825.50H460.00zM463.00 769.49H464.00V825.50H463.00zM464.00 771.17H465.00V825.50H464.00zM467.00 771.03H468.00V825.50H467.00zM470.00 770.46H471.00V825.50H470.00zM471.00 771.35H472.00V825.50H471.00zM474.00 769.83H475.00V825.50H474.00zM475.00 768.97H476.00V825.50H475.00zM478.00 769.91H479.00V825.50H478.00zM481.00 772.00H482.00V825.50H481.00zM482.00 771.79H483.00V825.50H482.00zM485.00 769.60H486.00V825.50H485.00zM488.00 772.64H489.00V825.50H488.00zM489.00 769.68H490.00V825.50H489.00zM492.00 770.95H493.00V825.50H492.00zM493.00 772.37H494.00V825.50H493.00zM496.00 769.96H497.00V825.50H496.00zM499.00 768.27H500.00V825.50H499.00zM500.00 771.03H501.00V825.50H500.00zM503.00 770.90H504.00V825.50H503.00zM506.00 768.35H507.00V825.50H506.00zM507.00 771.20H508.00V825.50H507.00zM510.00 772.55H511.00V825.50H510.00zM511.00 769.94H512.00V825.50H511.00zM514.00 773.00H515.00V825.50H514.00zM517.00 769.54H518.00V825.50H517.00zM518.00 770.23H519.00V825.50H518.00zM521.00 772.58H522.00V825.50H521.00zM524.00 774.45H525.00V825.50H524.00zM525.00 774.64H526.00V825.50H525.00zM528.00 768.04H529.00V825.50H528.00zM529.00 768.09H530.00V825.50H529.00zM532.00 767.24H533.00V825.50H532.00zM535.00 767.40H536.00V825.50H535.00zM536.00 767.76H537.00V825.50H536.00zM539.00 764.90H540.00V825.50H539.00zM542.00 764.92H543.00V825.50H542.00zM543.00 768.12H544.00V825.50H543.00zM546.00 766.63H547.00V825.50H546.00zM547.00 766.08H548.00V825.50H547.00zM550.00 766.75H551.00V825.50H550.00zM553.00 781.82H554.00V825.50H553.00zM554.00 780.91H555.00V825.50H554.00zM557.00 766.31H558.00V825.50H557.00zM560.00 766.83H561.00V825.50H560.00zM561.00 766.43H562.00V825.50H561.00zM564.00 781.12H565.00V825.50H564.00zM565.00 780.80H566.00V825.50H565.00zM568.00 776.07H569.00V825.50H568.00zM571.00 771.82H572.00V825.50H571.00zM572.00 772.89H573.00V825.50H572.00zM575.00 780.08H576.00V825.50H575.00zM578.00 778.56H579.00V825.50H578.00zM579.00 776.13H580.00V825.50H579.00zM582.00 768.70H583.00V825.50H582.00zM583.00 777.15H584.00V825.50H583.00zM586.00 770.63H587.00V825.50H586.00zM589.00 774.81H590.00V825.50H589.00zM590.00 775.46H591.00V825.50H590.00zM593.00 768.18H594.00V825.50H593.00zM596.00 765.95H597.00V825.50H596.00zM597.00 764.92H598.00V825.50H597.00zM600.00 767.43H601.00V825.50H600.00zM601.00 765.85H602.00V825.50H601.00zM604.00 766.60H605.00V825.50H604.00zM607.00 764.92H608.00V825.50H607.00zM608.00 766.94H609.00V825.50H608.00zM611.00 767.45H612.00V825.50H611.00zM614.00 767.79H615.00V825.50H614.00zM615.00 767.27H616.00V825.50H615.00zM618.00 768.27H619.00V825.50H618.00zM619.00 765.89H620.00V825.50H619.00zM622.00 765.59H623.00V825.50H622.00zM625.00 766.78H626.00V825.50H625.00zM626.00 766.45H627.00V825.50H626.00zM629.00 767.56H630.00V825.50H629.00zM632.00 765.22H633.00V825.50H632.00zM633.00 768.32H634.00V825.50H633.00zM636.00 765.90H637.00V825.50H636.00zM637.00 765.17H638.00V825.50H637.00zM640.00 767.26H641.00V825.50H640.00zM643.00 765.98H644.00V825.50H643.00zM644.00 767.18H645.00V825.50H644.00zM647.00 766.92H648.00V825.50H647.00zM650.00 766.46H651.00V825.50H650.00zM651.00 781.26H652.00V825.50H651.00zM654.00 781.93H655.00V825.50H654.00zM655.00 781.95H656.00V825.50H655.00zM658.00 781.51H659.00V825.50H658.00zM661.00 782.23H662.00V825.50H661.00zM662.00 782.05H663.00V825.50H662.00zM665.00 780.84H666.00V825.50H665.00zM668.00 782.20H669.00V825.50H668.00zM669.00 780.79H670.00V825.50H669.00zM672.00 781.37H673.00V825.50H672.00zM673.00 781.69H674.00V825.50H673.00zM676.00 781.52H677.00V825.50H676.00zM679.00 781.91H680.00V825.50H679.00zM680.00 782.10H681.00V825.50H680.00zM683.00 780.84H684.00V825.50H683.00zM686.00 780.78H687.00V825.50H686.00zM687.00 781.35H688.00V825.50H687.00zM690.00 782.00H691.00V825.50H690.00zM691.00 781.26H692.00V825.50H691.00zM694.00 780.93H695.00V825.50H694.00zM697.00 781.20H698.00V825.50H697.00zM698.00 782.24H699.00V825.50H698.00zM701.00 781.26H702.00V825.50H701.00zM704.00 782.19H705.00V825.50H704.00zM705.00 781.56H706.00V825.50H705.00zM708.00 781.43H709.00V825.50H708.00zM709.00 782.10H710.00V825.50H709.00zM712.00 782.33H713.00V825.50H712.00zM715.00 782.21H716.00V825.50H715.00zM716.00 782.09H717.00V825.50H716.00zM719.00 781.48H720.00V825.50H719.00zM722.00 781.05H723.00V825.50H722.00zM723.00 781.52H724.00V825.50H723.00zM726.00 780.76H727.00V825.50H726.00zM727.00 781.35H728.00V825.50H727.00zM730.00 782.31H731.00V825.50H730.00zM733.00 782.02H734.00V825.50H733.00zM734.00 780.64H735.00V825.50H734.00zM737.00 748.96H738.00V825.50H737.00zM740.00 748.75H741.00V825.50H740.00zM741.00 746.72H742.00V825.50H741.00zM744.00 746.74H745.00V825.50H744.00zM745.00 748.85H746.00V825.50H745.00zM748.00 746.70H749.00V825.50H748.00zM751.00 774.41H752.00V825.50H751.00zM752.00 774.10H753.00V825.50H752.00zM755.00 772.14H756.00V825.50H755.00zM758.00 773.13H759.00V825.50H758.00zM759.00 773.66H760.00V825.50H759.00z"/>
</g>
<rect x="437.50" y="576.50" width="324.00" height="249.00" fill="none" stroke="#000" stroke-width="0.9"/>
<text x="418.33" y="832.80" font-size="21.50" textLength="11.67" lengthAdjust="spacingAndGlyphs">0</text>
<text x="418.28" y="754.20" font-size="21.50" textLength="11.24" lengthAdjust="spacingAndGlyphs">2</text>
<text x="418.33" y="675.60" font-size="21.50" textLength="11.66" lengthAdjust="spacingAndGlyphs">4</text>
<text x="418.12" y="597.00" font-size="21.50" textLength="12.08" lengthAdjust="spacingAndGlyphs">6</text>
<path stroke="#000" stroke-width="0.9" d="M434.00 825.50h3.50M434.00 746.90h3.50M434.00 668.30h3.50M434.00 589.70h3.50"/>
<text x="431.56" y="847.50" font-size="21.50" textLength="11.67" lengthAdjust="spacingAndGlyphs">0</text>
<text x="490.27" y="847.50" font-size="21.50" textLength="37.20" lengthAdjust="spacingAndGlyphs">250</text>
<text x="562.11" y="847.50" font-size="21.50" textLength="36.88" lengthAdjust="spacingAndGlyphs">500</text>
<text x="633.48" y="847.50" font-size="21.50" textLength="37.03" lengthAdjust="spacingAndGlyphs">750</text>
<text x="698.67" y="847.50" font-size="21.50" textLength="49.73" lengthAdjust="spacingAndGlyphs">1000</text>
<path stroke="#000" stroke-width="0.9" d="M437.40 825.50v3.50M508.92 825.50v3.50M580.45 825.50v3.50M651.98 825.50v3.50M723.50 825.50v3.50"/>
<path stroke="#c8c8c8" stroke-width="0.8" d="M637.44 597.00v16.00"/>
<text x="654.77" y="611.50" font-size="22.40" textLength="86.94" lengthAdjust="spacingAndGlyphs">cc-pVTZ</text>
<clipPath id="cl3"><rect x="77.50" y="857.50" width="324.00" height="248.00"/></clipPath>
<path clip-path="url(#cl3)" fill="#000" d="M76.72 1053.02h1.80V1105.50h-1.80zM80.44 1053.02h1.80V1105.50h-1.80zM84.15 1053.02h1.80V1105.50h-1.80zM87.87 1053.02h1.80V1105.50h-1.80zM91.59 1053.02h1.80V1105.50h-1.80zM95.31 1053.02h1.80V1105.50h-1.80zM99.03 1053.02h1.80V1105.50h-1.80zM102.74 1053.02h1.80V1105.50h-1.80zM106.46 1053.02h1.80V1105.50h-1.80zM110.18 1053.02h1.80V1105.50h-1.80zM113.90 1053.02h1.80V1105.50h-1.80zM117.62 1053.02h1.80V1105.50h-1.80zM121.33 1053.02h1.80V1105.50h-1.80zM125.05 1053.02h1.80V1105.50h-1.80zM128.77 1053.02h1.80V1105.50h-1.80zM132.49 1053.02h1.80V1105.50h-1.80zM136.21 1053.02h1.80V1105.50h-1.80zM139.92 1053.02h1.80V1105.50h-1.80zM143.64 1053.02h1.80V1105.50h-1.80zM147.36 1053.02h1.80V1105.50h-1.80zM151.08 1066.25h1.80V1105.50h-1.80zM154.80 1066.25h1.80V1105.50h-1.80zM158.51 870.30h1.80V1105.50h-1.80zM162.23 905.43h1.80V1105.50h-1.80zM165.95 897.35h1.80V1105.50h-1.80zM169.67 870.30h1.80V1105.50h-1.80zM173.39 894.26h1.80V1105.50h-1.80zM177.10 872.36h1.80V1105.50h-1.80zM180.82 870.30h1.80V1105.50h-1.80zM184.54 872.36h1.80V1105.50h-1.80zM188.26 870.30h1.80V1105.50h-1.80zM191.98 870.30h1.80V1105.50h-1.80zM195.69 870.30h1.80V1105.50h-1.80zM199.41 870.30h1.80V1105.50h-1.80zM203.13 872.80h1.80V1105.50h-1.80zM206.85 872.36h1.80V1105.50h-1.80zM210.57 872.36h1.80V1105.50h-1.80zM214.28 872.36h1.80V1105.50h-1.80zM218.00 897.35h1.80V1105.50h-1.80zM221.72 872.80h1.80V1105.50h-1.80zM225.44 904.85h1.80V1105.50h-1.80zM229.16 870.30h1.80V1105.50h-1.80zM232.87 873.98h1.80V1105.50h-1.80zM236.59 872.36h1.80V1105.50h-1.80zM240.31 872.36h1.80V1105.50h-1.80zM244.03 872.36h1.80V1105.50h-1.80zM247.75 871.77h1.80V1105.50h-1.80zM251.46 873.24h1.80V1105.50h-1.80zM255.18 915.13h1.80V1105.50h-1.80zM258.90 894.55h1.80V1105.50h-1.80zM262.62 886.76h1.80V1105.50h-1.80zM266.34 917.19h1.80V1105.50h-1.80zM270.05 873.98h1.80V1105.50h-1.80zM273.77 872.50h1.80V1105.50h-1.80zM277.49 872.50h1.80V1105.50h-1.80zM281.21 872.50h1.80V1105.50h-1.80zM284.93 872.50h1.80V1105.50h-1.80zM288.64 872.50h1.80V1105.50h-1.80zM292.36 872.50h1.80V1105.50h-1.80zM296.08 872.50h1.80V1105.50h-1.80zM299.80 872.50h1.80V1105.50h-1.80zM303.52 872.50h1.80V1105.50h-1.80zM307.23 872.50h1.80V1105.50h-1.80zM310.95 872.50h1.80V1105.50h-1.80zM314.67 872.50h1.80V1105.50h-1.80zM318.39 872.50h1.80V1105.50h-1.80zM322.11 872.50h1.80V1105.50h-1.80zM325.82 872.50h1.80V1105.50h-1.80zM329.54 872.50h1.80V1105.50h-1.80zM333.26 872.50h1.80V1105.50h-1.80zM336.98 869.86h1.80V1105.50h-1.80zM340.70 872.50h1.80V1105.50h-1.80zM344.41 872.50h1.80V1105.50h-1.80zM348.13 872.50h1.80V1105.50h-1.80zM351.85 872.50h1.80V1105.50h-1.80zM355.57 872.50h1.80V1105.50h-1.80zM359.29 869.86h1.80V1105.50h-1.80zM363.00 872.50h1.80V1105.50h-1.80zM366.72 872.50h1.80V1105.50h-1.80zM370.44 869.86h1.80V1105.50h-1.80zM374.16 869.86h1.80V1105.50h-1.80zM377.88 872.50h1.80V1105.50h-1.80zM381.59 869.86h1.80V1105.50h-1.80zM385.31 869.86h1.80V1105.50h-1.80zM389.03 869.86h1.80V1105.50h-1.80zM392.75 871.77h1.80V1105.50h-1.80zM396.47 872.50h1.80V1105.50h-1.80zM400.18 869.86h1.80V1105.50h-1.80z"/>
<rect x="77.50" y="857.50" width="324.00" height="248.00" fill="none" stroke="#000" stroke-width="0.9"/>
<text x="39.30" y="1112.80" font-size="21.50" textLength="30.74" lengthAdjust="spacingAndGlyphs">0.0</text>
<text x="39.31" y="1039.30" font-size="21.50" textLength="30.37" lengthAdjust="spacingAndGlyphs">0.5</text>
<text x="39.36" y="965.80" font-size="21.50" textLength="30.68" lengthAdjust="spacingAndGlyphs">1.0</text>
<text x="39.38" y="892.30" font-size="21.50" textLength="30.30" lengthAdjust="spacingAndGlyphs">1.5</text>
<path stroke="#000" stroke-width="0.9" d="M74.00 1105.50h3.50M74.00 1032.00h3.50M74.00 958.50h3.50M74.00 885.00h3.50"/>
<text x="135.95" y="1127.50" font-size="21.50" textLength="24.52" lengthAdjust="spacingAndGlyphs">20</text>
<text x="210.43" y="1127.50" font-size="21.50" textLength="24.39" lengthAdjust="spacingAndGlyphs">40</text>
<text x="284.58" y="1127.50" font-size="21.50" textLength="24.60" lengthAdjust="spacingAndGlyphs">60</text>
<text x="359.09" y="1127.50" font-size="21.50" textLength="24.46" lengthAdjust="spacingAndGlyphs">80</text>
<path stroke="#000" stroke-width="0.9" d="M148.26 1105.50v3.50M222.62 1105.50v3.50M296.98 1105.50v3.50M371.34 1105.50v3.50"/>
<text transform="translate(29.6 1029.70) rotate(-90)" font-size="22.3" font-style="italic">&#963;</text>
<text transform="translate(32.9 1015.90) rotate(-90)" font-size="15.5">2</text>
<text transform="translate(29.6 999.30) rotate(-90)" font-size="22.4" textLength="66.3" lengthAdjust="spacingAndGlyphs">[bohr]</text>
<clipPath id="cr3"><rect x="437.50" y="857.50" width="324.00" height="248.00"/></clipPath>
<g clip-path="url(#cr3)">
<path fill="#d5d6d6" d="M441.00 976.47H442.00V1105.50H441.00zM442.00 969.05H443.00V1105.50H442.00zM443.00 986.35H444.00V1105.50H443.00zM444.00 984.42H445.00V1105.50H444.00zM452.00 964.73H453.00V1105.50H452.00zM453.00 977.28H454.00V1105.50H453.00zM455.00 1013.42H456.00V1105.50H455.00zM456.00 998.47H457.00V1105.50H456.00zM459.00 964.45H460.00V1105.50H459.00zM462.00 981.68H463.00V1105.50H462.00zM467.00 1013.34H468.00V1105.50H467.00zM468.00 1048.40H469.00V1105.50H468.00zM479.00 974.16H480.00V1105.50H479.00zM483.00 961.31H484.00V1105.50H483.00zM487.00 976.20H488.00V1105.50H487.00zM488.00 1002.56H489.00V1105.50H488.00zM491.00 960.22H492.00V1105.50H491.00zM496.00 999.54H497.00V1105.50H496.00zM497.00 960.85H498.00V1105.50H497.00zM498.00 1021.28H499.00V1105.50H498.00zM507.00 971.38H508.00V1105.50H507.00zM511.00 959.50H512.00V1105.50H511.00zM522.00 1023.74H523.00V1105.50H522.00zM523.00 975.20H524.00V1105.50H523.00zM526.00 983.80H527.00V1105.50H526.00zM531.00 974.75H532.00V1105.50H531.00zM536.00 1008.88H537.00V1105.50H536.00zM540.00 969.37H541.00V1105.50H540.00zM542.00 969.94H543.00V1105.50H542.00zM544.00 970.98H545.00V1105.50H544.00zM548.00 997.92H549.00V1105.50H548.00zM555.00 1020.81H556.00V1105.50H555.00zM568.00 1038.79H569.00V1105.50H568.00zM578.00 1031.98H579.00V1105.50H578.00zM580.00 1033.53H581.00V1105.50H580.00zM586.00 1028.34H587.00V1105.50H586.00zM598.00 1056.33H599.00V1105.50H598.00zM607.00 1040.73H608.00V1105.50H607.00zM625.00 1048.10H626.00V1105.50H625.00zM627.00 1065.65H628.00V1105.50H627.00zM633.00 1053.39H634.00V1105.50H633.00zM658.00 1048.49H659.00V1105.50H658.00zM669.00 1049.31H670.00V1105.50H669.00zM697.00 1072.84H698.00V1105.50H697.00zM711.00 1073.73H712.00V1105.50H711.00z"/>
<path fill="#d0d1d1" d="M515.50 872.24H516.50V1105.50H515.50zM686.40 978.62H687.40V1105.50H686.40zM701.80 1048.89H702.80V1105.50H701.80z"/>
<path fill="#b8baba" d="M438.00 973.95H439.00V1105.50H438.00zM445.00 987.61H446.00V1105.50H445.00zM446.00 1002.83H447.00V1105.50H446.00zM448.00 957.22H449.00V1105.50H448.00zM449.00 983.76H450.00V1105.50H449.00zM465.00 1046.80H466.00V1105.50H465.00zM466.00 960.98H467.00V1105.50H466.00zM469.00 967.72H470.00V1105.50H469.00zM470.00 973.17H471.00V1105.50H470.00zM477.00 971.59H478.00V1105.50H477.00zM480.00 980.33H481.00V1105.50H480.00zM493.00 1027.51H494.00V1105.50H493.00zM501.00 959.43H502.00V1105.50H501.00zM520.00 968.01H521.00V1105.50H520.00zM525.00 984.99H526.00V1105.50H525.00zM527.00 963.04H528.00V1105.50H527.00zM529.00 973.37H530.00V1105.50H529.00zM532.00 977.53H533.00V1105.50H532.00zM535.00 1034.05H536.00V1105.50H535.00zM539.00 973.02H540.00V1105.50H539.00zM543.00 998.07H544.00V1105.50H543.00zM545.00 978.61H546.00V1105.50H545.00zM546.00 976.51H547.00V1105.50H546.00zM554.00 997.80H555.00V1105.50H554.00zM559.00 988.02H560.00V1105.50H559.00zM562.00 971.49H563.00V1105.50H562.00zM565.00 994.99H566.00V1105.50H565.00zM567.00 985.81H568.00V1105.50H567.00zM569.00 1034.06H570.00V1105.50H569.00zM573.00 1032.02H574.00V1105.50H573.00zM575.00 1047.83H576.00V1105.50H575.00zM576.00 1048.46H577.00V1105.50H576.00zM584.00 1034.52H585.00V1105.50H584.00zM585.00 1031.18H586.00V1105.50H585.00zM587.00 1051.41H588.00V1105.50H587.00zM591.00 1050.03H592.00V1105.50H591.00zM594.00 1050.79H595.00V1105.50H594.00zM643.00 1055.18H644.00V1105.50H643.00zM645.00 1047.17H646.00V1105.50H645.00zM646.00 1048.17H647.00V1105.50H646.00zM675.00 1046.12H676.00V1105.50H675.00zM705.00 1075.06H706.00V1105.50H705.00zM746.00 1046.39H747.00V1105.50H746.00z"/>
<path fill="#b0b2b2" d="M439.50 867.36H440.50V1105.50H439.50zM524.50 950.32H525.50V1105.50H524.50zM655.00 1035.23H656.00V1105.50H655.00zM688.00 1024.30H689.00V1105.50H688.00zM745.80 982.52H746.80V1105.50H745.80z"/>
<path fill="#7a7e7e" d="M440.10 912.64H441.10V1105.50H440.10zM449.90 976.67H450.90V1105.50H449.90zM442.50 894.68H443.50V1105.50H442.50zM445.10 910.30H446.10V1105.50H445.10zM464.10 892.73H465.10V1105.50H464.10zM480.80 922.01H481.80V1105.50H480.80zM522.10 942.51H523.10V1105.50H522.10zM602.50 1004.00H603.50V1105.50H602.50zM634.70 1019.61H635.70V1105.50H634.70zM670.90 966.91H671.90V1105.50H670.90zM697.70 1033.28H698.70V1105.50H697.70zM748.00 972.76H749.00V1105.50H748.00z"/>
<path fill="#3a3e3f" d="M441.10 924.94H442.10V1105.50H441.10zM442.50 908.35H443.50V1105.50H442.50zM445.50 918.11H446.50V1105.50H445.50zM464.10 902.49H465.10V1105.50H464.10z"/>
<path fill="#5a5e5e" d="M437.00 962.02H438.00V1105.50H437.00zM472.00 1001.26H473.00V1105.50H472.00zM481.00 1006.89H482.00V1105.50H481.00zM482.00 999.43H483.00V1105.50H482.00zM486.00 977.97H487.00V1105.50H486.00zM507.00 997.75H508.00V1105.50H507.00zM510.00 981.37H511.00V1105.50H510.00zM517.00 991.83H518.00V1105.50H517.00zM531.00 982.10H532.00V1105.50H531.00zM539.00 990.68H540.00V1105.50H539.00zM547.00 995.60H548.00V1105.50H547.00zM550.00 1012.26H551.00V1105.50H550.00zM556.00 1013.32H557.00V1105.50H556.00zM583.00 1037.97H584.00V1105.50H583.00zM612.00 1044.93H613.00V1105.50H612.00zM621.00 1048.94H622.00V1105.50H621.00zM630.00 1055.95H631.00V1105.50H630.00zM639.00 1060.51H640.00V1105.50H639.00zM643.00 1057.52H644.00V1105.50H643.00zM644.00 1060.13H645.00V1105.50H644.00zM647.00 1061.08H648.00V1105.50H647.00zM653.00 1060.56H654.00V1105.50H653.00zM661.00 1057.22H662.00V1105.50H661.00zM700.00 1078.36H701.00V1105.50H700.00zM716.00 1078.25H717.00V1105.50H716.00zM744.00 1044.22H745.00V1105.50H744.00z"/>
<path fill="#b5b7b7" d="M438.00 981.95H439.00V1105.50H438.00zM439.00 987.24H440.00V1105.50H439.00zM445.00 991.76H446.00V1105.50H445.00zM446.00 1007.17H447.00V1105.50H446.00zM464.00 999.50H465.00V1105.50H464.00zM466.00 978.29H467.00V1105.50H466.00zM474.00 1009.06H475.00V1105.50H474.00zM475.00 979.18H476.00V1105.50H475.00zM499.00 993.75H500.00V1105.50H499.00zM501.00 978.25H502.00V1105.50H501.00zM503.00 982.69H504.00V1105.50H503.00zM514.00 997.91H515.00V1105.50H514.00zM520.00 981.70H521.00V1105.50H520.00zM526.00 1002.23H527.00V1105.50H526.00zM532.00 1011.95H533.00V1105.50H532.00zM546.00 985.27H547.00V1105.50H546.00zM549.00 992.18H550.00V1105.50H549.00zM564.00 989.30H565.00V1105.50H564.00zM572.00 1046.67H573.00V1105.50H572.00zM608.00 1047.16H609.00V1105.50H608.00zM613.00 1049.00H614.00V1105.50H613.00zM617.00 1053.26H618.00V1105.50H617.00zM622.00 1052.60H623.00V1105.50H622.00zM633.00 1056.02H634.00V1105.50H633.00zM655.00 1062.99H656.00V1105.50H655.00zM663.00 1050.01H664.00V1105.50H663.00zM668.00 1060.11H669.00V1105.50H668.00zM675.00 1049.68H676.00V1105.50H675.00zM707.00 1075.94H708.00V1105.50H707.00zM735.00 1079.23H736.00V1105.50H735.00z"/>
<path fill="#9a9d9d" d="M441.00 989.60H442.00V1105.50H441.00zM442.00 1000.23H443.00V1105.50H442.00zM449.00 984.50H450.00V1105.50H449.00zM451.00 971.41H452.00V1105.50H451.00zM453.00 989.03H454.00V1105.50H453.00zM454.00 978.80H455.00V1105.50H454.00zM470.00 977.47H471.00V1105.50H470.00zM487.00 1007.72H488.00V1105.50H487.00zM489.00 985.87H490.00V1105.50H489.00zM491.00 971.64H492.00V1105.50H491.00zM493.00 1036.01H494.00V1105.50H493.00zM494.00 1028.94H495.00V1105.50H494.00zM496.00 1023.43H497.00V1105.50H496.00zM497.00 974.25H498.00V1105.50H497.00zM508.00 999.67H509.00V1105.50H508.00zM515.00 974.89H516.00V1105.50H515.00zM519.00 995.61H520.00V1105.50H519.00zM524.00 975.89H525.00V1105.50H524.00zM527.00 987.33H528.00V1105.50H527.00zM530.00 1010.14H531.00V1105.50H530.00zM540.00 977.67H541.00V1105.50H540.00zM542.00 1009.92H543.00V1105.50H542.00zM544.00 985.28H545.00V1105.50H544.00zM551.00 1004.40H552.00V1105.50H551.00zM562.00 1004.55H563.00V1105.50H562.00zM580.00 1046.11H581.00V1105.50H580.00zM594.00 1061.06H595.00V1105.50H594.00zM624.00 1043.60H625.00V1105.50H624.00zM637.00 1055.59H638.00V1105.50H637.00zM646.00 1056.88H647.00V1105.50H646.00zM652.00 1056.62H653.00V1105.50H652.00zM656.00 1057.54H657.00V1105.50H656.00zM676.00 1054.43H677.00V1105.50H676.00zM677.00 1052.27H678.00V1105.50H677.00zM681.00 1064.25H682.00V1105.50H681.00zM721.00 1079.00H722.00V1105.50H721.00zM723.00 1081.40H724.00V1105.50H723.00zM727.00 1075.75H728.00V1105.50H727.00zM730.00 1075.53H731.00V1105.50H730.00zM738.00 1076.71H739.00V1105.50H738.00zM749.00 1038.12H750.00V1105.50H749.00z"/>
<path fill="#7a7e7e" d="M444.00 996.48H445.00V1105.50H444.00zM452.00 982.04H453.00V1105.50H452.00zM461.00 1011.33H462.00V1105.50H461.00zM462.00 988.31H463.00V1105.50H462.00zM471.00 1011.54H472.00V1105.50H471.00zM473.00 979.95H474.00V1105.50H473.00zM477.00 1001.40H478.00V1105.50H477.00zM479.00 1002.18H480.00V1105.50H479.00zM480.00 1006.81H481.00V1105.50H480.00zM483.00 985.73H484.00V1105.50H483.00zM488.00 1007.77H489.00V1105.50H488.00zM492.00 1012.89H493.00V1105.50H492.00zM504.00 989.18H505.00V1105.50H504.00zM511.00 976.49H512.00V1105.50H511.00zM525.00 996.63H526.00V1105.50H525.00zM528.00 1001.08H529.00V1105.50H528.00zM534.00 993.06H535.00V1105.50H534.00zM545.00 980.11H546.00V1105.50H545.00zM548.00 1005.70H549.00V1105.50H548.00zM552.00 989.62H553.00V1105.50H552.00zM560.00 981.79H561.00V1105.50H560.00zM567.00 1004.18H568.00V1105.50H567.00zM596.00 1053.58H597.00V1105.50H596.00zM599.00 1057.19H600.00V1105.50H599.00zM634.00 1051.95H635.00V1105.50H634.00zM649.00 1050.93H650.00V1105.50H649.00zM650.00 1054.26H651.00V1105.50H650.00zM658.00 1050.62H659.00V1105.50H658.00zM659.00 1053.96H660.00V1105.50H659.00zM679.00 1061.14H680.00V1105.50H679.00zM684.00 1056.98H685.00V1105.50H684.00zM685.00 1058.89H686.00V1105.50H685.00zM746.00 1054.68H747.00V1105.50H746.00zM757.00 1064.80H758.00V1105.50H757.00zM759.00 1058.21H760.00V1105.50H759.00zM761.00 1065.20H762.00V1105.50H761.00z"/>
<path fill="#2f3334" d="M437.00 987.67H438.00V1105.50H437.00zM440.00 1033.07H441.00V1105.50H440.00zM441.00 1032.62H442.00V1105.50H441.00zM442.00 1034.75H443.00V1105.50H442.00zM443.00 1025.19H444.00V1105.50H443.00zM444.00 1034.66H445.00V1105.50H444.00zM445.00 1035.65H446.00V1105.50H445.00zM446.00 1038.12H447.00V1105.50H446.00zM448.00 1040.35H449.00V1105.50H448.00zM449.00 1029.15H450.00V1105.50H449.00zM450.00 1036.88H451.00V1105.50H450.00zM451.00 1039.29H452.00V1105.50H451.00zM452.00 1031.34H453.00V1105.50H452.00zM453.00 1023.94H454.00V1105.50H453.00zM454.00 1020.29H455.00V1105.50H454.00zM455.00 1026.59H456.00V1105.50H455.00zM456.00 1038.31H457.00V1105.50H456.00zM459.00 1045.10H460.00V1105.50H459.00zM462.00 1041.80H463.00V1105.50H462.00zM467.00 1034.63H468.00V1105.50H467.00zM469.00 1048.77H470.00V1105.50H469.00zM472.00 1043.12H473.00V1105.50H472.00zM473.00 1038.57H474.00V1105.50H473.00zM474.00 1049.76H475.00V1105.50H474.00zM475.00 1032.87H476.00V1105.50H475.00zM476.00 1032.62H477.00V1105.50H476.00zM478.00 1023.36H479.00V1105.50H478.00zM479.00 1021.52H480.00V1105.50H479.00zM482.00 1024.36H483.00V1105.50H482.00zM483.00 1037.17H484.00V1105.50H483.00zM484.00 1027.43H485.00V1105.50H484.00zM485.00 1040.52H486.00V1105.50H485.00zM486.00 1021.57H487.00V1105.50H486.00zM487.00 1024.73H488.00V1105.50H487.00zM488.00 1035.74H489.00V1105.50H488.00zM489.00 1023.31H490.00V1105.50H489.00zM490.00 1034.51H491.00V1105.50H490.00zM491.00 1037.74H492.00V1105.50H491.00zM497.00 1050.99H498.00V1105.50H497.00zM498.00 1049.88H499.00V1105.50H498.00zM499.00 1047.50H500.00V1105.50H499.00zM500.00 1044.35H501.00V1105.50H500.00zM501.00 1041.14H502.00V1105.50H501.00zM502.00 1040.05H503.00V1105.50H502.00zM503.00 1047.48H504.00V1105.50H503.00zM504.00 1045.85H505.00V1105.50H504.00zM505.00 1047.36H506.00V1105.50H505.00zM506.00 1035.54H507.00V1105.50H506.00zM508.00 1042.31H509.00V1105.50H508.00zM511.00 1045.24H512.00V1105.50H511.00zM512.00 1037.88H513.00V1105.50H512.00zM514.00 1039.85H515.00V1105.50H514.00zM516.00 1051.10H517.00V1105.50H516.00zM517.00 1038.73H518.00V1105.50H517.00zM519.00 1039.08H520.00V1105.50H519.00zM520.00 1044.64H521.00V1105.50H520.00zM521.00 1049.73H522.00V1105.50H521.00zM522.00 1040.61H523.00V1105.50H522.00zM523.00 1035.33H524.00V1105.50H523.00zM524.00 1045.73H525.00V1105.50H524.00zM525.00 1046.03H526.00V1105.50H525.00zM526.00 1045.86H527.00V1105.50H526.00zM527.00 1044.67H528.00V1105.50H527.00zM528.00 1052.58H529.00V1105.50H528.00zM530.00 1040.08H531.00V1105.50H530.00zM531.00 1051.64H532.00V1105.50H531.00zM532.00 1040.46H533.00V1105.50H532.00zM533.00 1054.37H534.00V1105.50H533.00zM534.00 1043.97H535.00V1105.50H534.00zM535.00 1042.45H536.00V1105.50H535.00zM536.00 1040.86H537.00V1105.50H536.00zM537.00 1048.76H538.00V1105.50H537.00zM538.00 1043.65H539.00V1105.50H538.00zM541.00 1041.79H542.00V1105.50H541.00zM542.00 1049.37H543.00V1105.50H542.00zM543.00 1046.45H544.00V1105.50H543.00zM544.00 1050.00H545.00V1105.50H544.00zM545.00 1051.28H546.00V1105.50H545.00zM546.00 1050.48H547.00V1105.50H546.00zM547.00 1051.73H548.00V1105.50H547.00zM548.00 1046.58H549.00V1105.50H548.00zM549.00 1054.09H550.00V1105.50H549.00zM554.00 1047.73H555.00V1105.50H554.00zM556.00 1041.67H557.00V1105.50H556.00zM558.00 1051.67H559.00V1105.50H558.00zM559.00 1043.35H560.00V1105.50H559.00zM560.00 1050.52H561.00V1105.50H560.00zM561.00 1052.69H562.00V1105.50H561.00zM562.00 1040.18H563.00V1105.50H562.00zM563.00 1042.39H564.00V1105.50H563.00zM566.00 1040.09H567.00V1105.50H566.00zM569.00 1052.72H570.00V1105.50H569.00zM574.00 1051.53H575.00V1105.50H574.00zM577.00 1055.71H578.00V1105.50H577.00zM578.00 1040.48H579.00V1105.50H578.00zM581.00 1039.87H582.00V1105.50H581.00zM582.00 1049.77H583.00V1105.50H582.00zM583.00 1037.97H584.00V1105.50H583.00zM584.00 1042.10H585.00V1105.50H584.00zM585.00 1036.14H586.00V1105.50H585.00zM586.00 1037.65H587.00V1105.50H586.00zM587.00 1063.41H588.00V1105.50H587.00zM591.00 1061.26H592.00V1105.50H591.00zM599.00 1062.65H600.00V1105.50H599.00zM603.00 1063.44H604.00V1105.50H603.00zM606.00 1064.31H607.00V1105.50H606.00zM607.00 1057.25H608.00V1105.50H607.00zM610.00 1058.87H611.00V1105.50H610.00zM614.00 1057.81H615.00V1105.50H614.00zM615.00 1055.74H616.00V1105.50H615.00zM616.00 1059.17H617.00V1105.50H616.00zM617.00 1062.50H618.00V1105.50H617.00zM620.00 1055.07H621.00V1105.50H620.00zM621.00 1057.73H622.00V1105.50H621.00zM623.00 1061.99H624.00V1105.50H623.00zM625.00 1058.09H626.00V1105.50H625.00zM626.00 1056.64H627.00V1105.50H626.00zM627.00 1065.91H628.00V1105.50H627.00zM629.00 1055.51H630.00V1105.50H629.00zM631.00 1061.93H632.00V1105.50H631.00zM632.00 1058.37H633.00V1105.50H632.00zM633.00 1067.28H634.00V1105.50H633.00zM634.00 1064.18H635.00V1105.50H634.00zM635.00 1063.92H636.00V1105.50H635.00zM636.00 1066.95H637.00V1105.50H636.00zM637.00 1055.59H638.00V1105.50H637.00zM638.00 1065.03H639.00V1105.50H638.00zM639.00 1060.51H640.00V1105.50H639.00zM640.00 1060.53H641.00V1105.50H640.00zM641.00 1064.23H642.00V1105.50H641.00zM642.00 1061.77H643.00V1105.50H642.00zM643.00 1057.52H644.00V1105.50H643.00zM644.00 1062.65H645.00V1105.50H644.00zM645.00 1057.66H646.00V1105.50H645.00zM646.00 1056.88H647.00V1105.50H646.00zM648.00 1065.41H649.00V1105.50H648.00zM650.00 1063.92H651.00V1105.50H650.00zM655.00 1064.61H656.00V1105.50H655.00zM656.00 1057.54H657.00V1105.50H656.00zM657.00 1057.29H658.00V1105.50H657.00zM658.00 1060.09H659.00V1105.50H658.00zM660.00 1056.73H661.00V1105.50H660.00zM661.00 1058.42H662.00V1105.50H661.00zM662.00 1057.58H663.00V1105.50H662.00zM663.00 1056.94H664.00V1105.50H663.00zM667.00 1077.84H668.00V1105.50H667.00zM668.00 1075.58H669.00V1105.50H668.00zM671.00 1077.89H672.00V1105.50H671.00zM675.00 1073.74H676.00V1105.50H675.00zM679.00 1076.74H680.00V1105.50H679.00zM680.00 1078.26H681.00V1105.50H680.00zM681.00 1073.77H682.00V1105.50H681.00zM682.00 1074.44H683.00V1105.50H682.00zM684.00 1072.64H685.00V1105.50H684.00zM685.00 1077.05H686.00V1105.50H685.00zM689.00 1081.68H690.00V1105.50H689.00zM703.00 1082.05H704.00V1105.50H703.00zM708.00 1080.88H709.00V1105.50H708.00zM711.00 1082.26H712.00V1105.50H711.00zM719.00 1082.67H720.00V1105.50H719.00zM720.00 1082.09H721.00V1105.50H720.00zM724.00 1082.75H725.00V1105.50H724.00zM731.00 1081.93H732.00V1105.50H731.00zM733.00 1081.71H734.00V1105.50H733.00zM744.00 1055.15H745.00V1105.50H744.00zM745.00 1053.43H746.00V1105.50H745.00zM746.00 1058.08H747.00V1105.50H746.00zM748.00 1055.50H749.00V1105.50H748.00zM750.00 1054.40H751.00V1105.50H750.00zM751.00 1054.74H752.00V1105.50H751.00zM752.00 1056.65H753.00V1105.50H752.00zM753.00 1074.80H754.00V1105.50H753.00zM755.00 1073.51H756.00V1105.50H755.00zM756.00 1067.70H757.00V1105.50H756.00zM758.00 1069.17H759.00V1105.50H758.00z"/>
<path fill="#212526" d="M437.00 1018.20H438.00V1105.50H437.00zM439.00 1017.20H440.00V1105.50H439.00zM440.00 1061.52H441.00V1105.50H440.00zM442.00 1063.27H443.00V1105.50H442.00zM443.00 1059.11H444.00V1105.50H443.00zM445.00 1060.75H446.00V1105.50H445.00zM446.00 1060.74H447.00V1105.50H446.00zM448.00 1063.17H449.00V1105.50H448.00zM449.00 1060.59H450.00V1105.50H449.00zM451.00 1059.22H452.00V1105.50H451.00zM452.00 1054.24H453.00V1105.50H452.00zM454.00 1055.55H455.00V1105.50H454.00zM455.00 1059.43H456.00V1105.50H455.00zM457.00 1063.20H458.00V1105.50H457.00zM458.00 1062.07H459.00V1105.50H458.00zM460.00 1064.43H461.00V1105.50H460.00zM461.00 1064.69H462.00V1105.50H461.00zM463.00 1064.05H464.00V1105.50H463.00zM464.00 1060.15H465.00V1105.50H464.00zM466.00 1060.70H467.00V1105.50H466.00zM467.00 1062.43H468.00V1105.50H467.00zM469.00 1060.49H470.00V1105.50H469.00zM470.00 1059.37H471.00V1105.50H470.00zM472.00 1065.04H473.00V1105.50H472.00zM473.00 1060.42H474.00V1105.50H473.00zM475.00 1060.54H476.00V1105.50H475.00zM476.00 1062.04H477.00V1105.50H476.00zM478.00 1062.13H479.00V1105.50H478.00zM479.00 1060.39H480.00V1105.50H479.00zM481.00 1059.55H482.00V1105.50H481.00zM482.00 1062.96H483.00V1105.50H482.00zM484.00 1058.87H485.00V1105.50H484.00zM485.00 1063.69H486.00V1105.50H485.00zM487.00 1058.11H488.00V1105.50H487.00zM488.00 1064.93H489.00V1105.50H488.00zM490.00 1058.63H491.00V1105.50H490.00zM491.00 1060.58H492.00V1105.50H491.00zM493.00 1076.48H494.00V1105.50H493.00zM494.00 1076.11H495.00V1105.50H494.00zM496.00 1075.28H497.00V1105.50H496.00zM497.00 1066.90H498.00V1105.50H497.00zM499.00 1059.79H500.00V1105.50H499.00zM500.00 1068.48H501.00V1105.50H500.00zM502.00 1069.78H503.00V1105.50H502.00zM503.00 1058.69H504.00V1105.50H503.00zM505.00 1060.05H506.00V1105.50H505.00zM506.00 1065.28H507.00V1105.50H506.00zM508.00 1067.22H509.00V1105.50H508.00zM509.00 1066.81H510.00V1105.50H509.00zM511.00 1062.72H512.00V1105.50H511.00zM512.00 1059.97H513.00V1105.50H512.00zM514.00 1060.80H515.00V1105.50H514.00zM515.00 1068.66H516.00V1105.50H515.00zM517.00 1060.29H518.00V1105.50H517.00zM518.00 1066.20H519.00V1105.50H518.00zM520.00 1062.33H521.00V1105.50H520.00zM521.00 1070.33H522.00V1105.50H521.00zM523.00 1063.06H524.00V1105.50H523.00zM524.00 1068.06H525.00V1105.50H524.00zM526.00 1063.01H527.00V1105.50H526.00zM527.00 1067.48H528.00V1105.50H527.00zM529.00 1066.40H530.00V1105.50H529.00zM530.00 1063.97H531.00V1105.50H530.00zM532.00 1069.77H533.00V1105.50H532.00zM533.00 1060.59H534.00V1105.50H533.00zM535.00 1066.49H536.00V1105.50H535.00zM536.00 1065.29H537.00V1105.50H536.00zM538.00 1070.59H539.00V1105.50H538.00zM539.00 1063.37H540.00V1105.50H539.00zM541.00 1059.05H542.00V1105.50H541.00zM542.00 1061.98H543.00V1105.50H542.00zM544.00 1059.99H545.00V1105.50H544.00zM545.00 1067.68H546.00V1105.50H545.00zM547.00 1070.65H548.00V1105.50H547.00zM548.00 1069.53H549.00V1105.50H548.00zM550.00 1065.79H551.00V1105.50H550.00zM551.00 1060.44H552.00V1105.50H551.00zM553.00 1061.11H554.00V1105.50H553.00zM554.00 1061.12H555.00V1105.50H554.00zM556.00 1068.23H557.00V1105.50H556.00zM557.00 1060.92H558.00V1105.50H557.00zM559.00 1061.53H560.00V1105.50H559.00zM560.00 1060.25H561.00V1105.50H560.00zM562.00 1067.29H563.00V1105.50H562.00zM563.00 1063.96H564.00V1105.50H563.00zM565.00 1063.56H566.00V1105.50H565.00zM566.00 1063.07H567.00V1105.50H566.00zM568.00 1059.08H569.00V1105.50H568.00zM569.00 1062.00H570.00V1105.50H569.00zM571.00 1060.87H572.00V1105.50H571.00zM572.00 1061.73H573.00V1105.50H572.00zM574.00 1059.74H575.00V1105.50H574.00zM575.00 1062.00H576.00V1105.50H575.00zM577.00 1059.40H578.00V1105.50H577.00zM578.00 1058.76H579.00V1105.50H578.00zM580.00 1061.75H581.00V1105.50H580.00zM581.00 1062.27H582.00V1105.50H581.00zM583.00 1059.23H584.00V1105.50H583.00zM584.00 1058.72H585.00V1105.50H584.00zM586.00 1062.70H587.00V1105.50H586.00zM587.00 1063.41H588.00V1105.50H587.00zM589.00 1062.42H590.00V1105.50H589.00zM590.00 1064.46H591.00V1105.50H590.00zM592.00 1062.68H593.00V1105.50H592.00zM593.00 1060.72H594.00V1105.50H593.00zM595.00 1060.82H596.00V1105.50H595.00zM596.00 1061.41H597.00V1105.50H596.00zM598.00 1062.76H599.00V1105.50H598.00zM599.00 1063.97H600.00V1105.50H599.00zM601.00 1064.26H602.00V1105.50H601.00zM602.00 1062.63H603.00V1105.50H602.00zM604.00 1067.18H605.00V1105.50H604.00zM605.00 1068.03H606.00V1105.50H605.00zM607.00 1062.12H608.00V1105.50H607.00zM608.00 1065.54H609.00V1105.50H608.00zM610.00 1063.26H611.00V1105.50H610.00zM611.00 1061.29H612.00V1105.50H611.00zM613.00 1068.09H614.00V1105.50H613.00zM614.00 1060.87H615.00V1105.50H614.00zM616.00 1064.79H617.00V1105.50H616.00zM617.00 1063.23H618.00V1105.50H617.00zM619.00 1067.18H620.00V1105.50H619.00zM620.00 1065.27H621.00V1105.50H620.00zM622.00 1061.85H623.00V1105.50H622.00zM623.00 1067.81H624.00V1105.50H623.00zM625.00 1066.82H626.00V1105.50H625.00zM626.00 1068.37H627.00V1105.50H626.00zM628.00 1068.19H629.00V1105.50H628.00zM629.00 1067.91H630.00V1105.50H629.00zM631.00 1066.89H632.00V1105.50H631.00zM632.00 1068.81H633.00V1105.50H632.00zM634.00 1071.10H635.00V1105.50H634.00zM635.00 1067.85H636.00V1105.50H635.00zM637.00 1067.59H638.00V1105.50H637.00zM638.00 1067.34H639.00V1105.50H638.00zM640.00 1071.46H641.00V1105.50H640.00zM641.00 1067.93H642.00V1105.50H641.00zM643.00 1071.97H644.00V1105.50H643.00zM644.00 1069.17H645.00V1105.50H644.00zM646.00 1069.92H647.00V1105.50H646.00zM647.00 1066.01H648.00V1105.50H647.00zM649.00 1072.02H650.00V1105.50H649.00zM650.00 1071.12H651.00V1105.50H650.00zM652.00 1066.15H653.00V1105.50H652.00zM653.00 1070.17H654.00V1105.50H653.00zM655.00 1067.28H656.00V1105.50H655.00zM656.00 1072.06H657.00V1105.50H656.00zM658.00 1072.32H659.00V1105.50H658.00zM659.00 1072.40H660.00V1105.50H659.00zM661.00 1072.79H662.00V1105.50H661.00zM662.00 1069.61H663.00V1105.50H662.00zM664.00 1078.12H665.00V1105.50H664.00zM665.00 1078.49H666.00V1105.50H665.00zM667.00 1079.92H668.00V1105.50H667.00zM668.00 1077.31H669.00V1105.50H668.00zM670.00 1078.19H671.00V1105.50H670.00zM671.00 1077.89H672.00V1105.50H671.00zM673.00 1079.09H674.00V1105.50H673.00zM674.00 1078.13H675.00V1105.50H674.00zM676.00 1078.05H677.00V1105.50H676.00zM677.00 1077.66H678.00V1105.50H677.00zM679.00 1076.74H680.00V1105.50H679.00zM680.00 1078.26H681.00V1105.50H680.00zM682.00 1076.86H683.00V1105.50H682.00zM683.00 1077.59H684.00V1105.50H683.00zM685.00 1077.05H686.00V1105.50H685.00zM686.00 1078.37H687.00V1105.50H686.00zM688.00 1078.86H689.00V1105.50H688.00zM689.00 1081.68H690.00V1105.50H689.00zM691.00 1081.95H692.00V1105.50H691.00zM692.00 1081.45H693.00V1105.50H692.00zM694.00 1081.83H695.00V1105.50H694.00zM695.00 1082.61H696.00V1105.50H695.00zM697.00 1081.97H698.00V1105.50H697.00zM698.00 1082.20H699.00V1105.50H698.00zM700.00 1081.87H701.00V1105.50H700.00zM701.00 1082.58H702.00V1105.50H701.00zM703.00 1082.05H704.00V1105.50H703.00zM704.00 1082.05H705.00V1105.50H704.00zM706.00 1081.97H707.00V1105.50H706.00zM707.00 1081.96H708.00V1105.50H707.00zM709.00 1081.95H710.00V1105.50H709.00zM710.00 1082.48H711.00V1105.50H710.00zM712.00 1082.68H713.00V1105.50H712.00zM713.00 1081.49H714.00V1105.50H713.00zM715.00 1082.27H716.00V1105.50H715.00zM716.00 1082.19H717.00V1105.50H716.00zM718.00 1082.11H719.00V1105.50H718.00zM719.00 1082.67H720.00V1105.50H719.00zM721.00 1081.92H722.00V1105.50H721.00zM722.00 1082.34H723.00V1105.50H722.00zM724.00 1082.75H725.00V1105.50H724.00zM725.00 1081.45H726.00V1105.50H725.00zM727.00 1082.19H728.00V1105.50H727.00zM728.00 1081.47H729.00V1105.50H728.00zM730.00 1082.35H731.00V1105.50H730.00zM731.00 1081.93H732.00V1105.50H731.00zM733.00 1081.71H734.00V1105.50H733.00zM734.00 1081.70H735.00V1105.50H734.00zM736.00 1082.69H737.00V1105.50H736.00zM737.00 1082.64H738.00V1105.50H737.00zM739.00 1081.83H740.00V1105.50H739.00zM740.00 1082.63H741.00V1105.50H740.00zM742.00 1081.49H743.00V1105.50H742.00zM743.00 1081.98H744.00V1105.50H743.00zM745.00 1055.58H746.00V1105.50H745.00zM746.00 1058.08H747.00V1105.50H746.00zM748.00 1055.50H749.00V1105.50H748.00zM749.00 1057.65H750.00V1105.50H749.00zM751.00 1054.74H752.00V1105.50H751.00zM752.00 1056.65H753.00V1105.50H752.00zM754.00 1074.55H755.00V1105.50H754.00zM755.00 1073.51H756.00V1105.50H755.00zM757.00 1072.15H758.00V1105.50H757.00zM758.00 1072.77H759.00V1105.50H758.00zM760.00 1073.15H761.00V1105.50H760.00zM761.00 1073.81H762.00V1105.50H761.00z"/>
<path fill="#2b2f30" d="M438.00 1016.12H439.00V1105.50H438.00zM441.00 1055.09H442.00V1105.50H441.00zM444.00 1058.48H445.00V1105.50H444.00zM447.00 1054.94H448.00V1105.50H447.00zM450.00 1059.08H451.00V1105.50H450.00zM453.00 1057.23H454.00V1105.50H453.00zM456.00 1054.32H457.00V1105.50H456.00zM459.00 1057.78H460.00V1105.50H459.00zM462.00 1058.92H463.00V1105.50H462.00zM465.00 1060.04H466.00V1105.50H465.00zM468.00 1061.60H469.00V1105.50H468.00zM471.00 1062.16H472.00V1105.50H471.00zM474.00 1059.62H475.00V1105.50H474.00zM477.00 1062.53H478.00V1105.50H477.00zM480.00 1059.16H481.00V1105.50H480.00zM483.00 1061.50H484.00V1105.50H483.00zM486.00 1059.67H487.00V1105.50H486.00zM489.00 1059.62H490.00V1105.50H489.00zM492.00 1075.57H493.00V1105.50H492.00zM495.00 1075.72H496.00V1105.50H495.00zM498.00 1061.01H499.00V1105.50H498.00zM501.00 1070.18H502.00V1105.50H501.00zM504.00 1066.99H505.00V1105.50H504.00zM507.00 1067.26H508.00V1105.50H507.00zM510.00 1062.04H511.00V1105.50H510.00zM513.00 1058.44H514.00V1105.50H513.00zM516.00 1058.62H517.00V1105.50H516.00zM519.00 1070.19H520.00V1105.50H519.00zM522.00 1064.54H523.00V1105.50H522.00zM525.00 1064.18H526.00V1105.50H525.00zM528.00 1059.80H529.00V1105.50H528.00zM531.00 1061.31H532.00V1105.50H531.00zM534.00 1070.53H535.00V1105.50H534.00zM537.00 1069.02H538.00V1105.50H537.00zM540.00 1058.60H541.00V1105.50H540.00zM543.00 1062.82H544.00V1105.50H543.00zM546.00 1065.83H547.00V1105.50H546.00zM549.00 1065.27H550.00V1105.50H549.00zM552.00 1063.01H553.00V1105.50H552.00zM555.00 1064.58H556.00V1105.50H555.00zM558.00 1066.38H559.00V1105.50H558.00zM561.00 1061.17H562.00V1105.50H561.00zM564.00 1068.31H565.00V1105.50H564.00zM567.00 1069.96H568.00V1105.50H567.00zM570.00 1060.02H571.00V1105.50H570.00zM573.00 1061.56H574.00V1105.50H573.00zM576.00 1060.58H577.00V1105.50H576.00zM579.00 1058.58H580.00V1105.50H579.00zM582.00 1060.83H583.00V1105.50H582.00zM585.00 1060.15H586.00V1105.50H585.00zM588.00 1061.36H589.00V1105.50H588.00zM591.00 1061.26H592.00V1105.50H591.00zM594.00 1064.26H595.00V1105.50H594.00zM597.00 1060.74H598.00V1105.50H597.00zM600.00 1063.94H601.00V1105.50H600.00zM603.00 1063.44H604.00V1105.50H603.00zM606.00 1064.31H607.00V1105.50H606.00zM609.00 1060.49H610.00V1105.50H609.00zM612.00 1066.51H613.00V1105.50H612.00zM615.00 1065.77H616.00V1105.50H615.00zM618.00 1062.07H619.00V1105.50H618.00zM621.00 1063.69H622.00V1105.50H621.00zM624.00 1064.25H625.00V1105.50H624.00zM627.00 1065.91H628.00V1105.50H627.00zM630.00 1068.98H631.00V1105.50H630.00zM633.00 1067.85H634.00V1105.50H633.00zM636.00 1070.08H637.00V1105.50H636.00zM639.00 1072.37H640.00V1105.50H639.00zM642.00 1067.09H643.00V1105.50H642.00zM645.00 1072.81H646.00V1105.50H645.00zM648.00 1067.28H649.00V1105.50H648.00zM651.00 1068.89H652.00V1105.50H651.00zM654.00 1069.85H655.00V1105.50H654.00zM657.00 1070.22H658.00V1105.50H657.00zM660.00 1072.07H661.00V1105.50H660.00zM663.00 1068.63H664.00V1105.50H663.00zM666.00 1077.56H667.00V1105.50H666.00zM669.00 1080.11H670.00V1105.50H669.00zM672.00 1078.84H673.00V1105.50H672.00zM675.00 1078.53H676.00V1105.50H675.00zM678.00 1076.89H679.00V1105.50H678.00zM681.00 1079.84H682.00V1105.50H681.00zM684.00 1079.40H685.00V1105.50H684.00zM687.00 1080.26H688.00V1105.50H687.00zM690.00 1082.37H691.00V1105.50H690.00zM693.00 1081.53H694.00V1105.50H693.00zM696.00 1082.33H697.00V1105.50H696.00zM699.00 1082.70H700.00V1105.50H699.00zM702.00 1081.83H703.00V1105.50H702.00zM705.00 1082.41H706.00V1105.50H705.00zM708.00 1081.95H709.00V1105.50H708.00zM711.00 1082.26H712.00V1105.50H711.00zM714.00 1082.10H715.00V1105.50H714.00zM717.00 1082.29H718.00V1105.50H717.00zM720.00 1082.09H721.00V1105.50H720.00zM723.00 1081.40H724.00V1105.50H723.00zM726.00 1082.02H727.00V1105.50H726.00zM729.00 1082.77H730.00V1105.50H729.00zM732.00 1082.53H733.00V1105.50H732.00zM735.00 1081.82H736.00V1105.50H735.00zM738.00 1081.62H739.00V1105.50H738.00zM741.00 1082.14H742.00V1105.50H741.00zM744.00 1055.24H745.00V1105.50H744.00zM747.00 1058.16H748.00V1105.50H747.00zM750.00 1054.98H751.00V1105.50H750.00zM753.00 1074.80H754.00V1105.50H753.00zM756.00 1073.11H757.00V1105.50H756.00zM759.00 1072.03H760.00V1105.50H759.00z"/>
</g>
<rect x="437.50" y="857.50" width="324.00" height="248.00" fill="none" stroke="#000" stroke-width="0.9"/>
<text x="399.30" y="1112.80" font-size="21.50" textLength="30.74" lengthAdjust="spacingAndGlyphs">0.0</text>
<text x="399.21" y="1064.00" font-size="21.50" textLength="30.48" lengthAdjust="spacingAndGlyphs">2.5</text>
<text x="399.51" y="1015.20" font-size="21.50" textLength="30.53" lengthAdjust="spacingAndGlyphs">5.0</text>
<text x="399.37" y="966.40" font-size="21.50" textLength="30.31" lengthAdjust="spacingAndGlyphs">7.5</text>
<text x="386.69" y="917.60" font-size="21.50" textLength="43.36" lengthAdjust="spacingAndGlyphs">10.0</text>
<text x="386.70" y="868.80" font-size="21.50" textLength="42.99" lengthAdjust="spacingAndGlyphs">12.5</text>
<path stroke="#000" stroke-width="0.9" d="M434.00 1105.50h3.50M434.00 1056.70h3.50M434.00 1007.90h3.50M434.00 959.10h3.50M434.00 910.30h3.50M434.00 861.50h3.50"/>
<text x="431.56" y="1127.50" font-size="21.50" textLength="11.67" lengthAdjust="spacingAndGlyphs">0</text>
<text x="506.96" y="1127.50" font-size="21.50" textLength="36.88" lengthAdjust="spacingAndGlyphs">500</text>
<text x="588.37" y="1127.50" font-size="21.50" textLength="49.73" lengthAdjust="spacingAndGlyphs">1000</text>
<text x="676.27" y="1127.50" font-size="21.50" textLength="49.73" lengthAdjust="spacingAndGlyphs">1500</text>
<path stroke="#000" stroke-width="0.9" d="M437.40 1105.50v3.50M525.30 1105.50v3.50M613.20 1105.50v3.50M701.10 1105.50v3.50"/>
<path stroke="#c8c8c8" stroke-width="0.8" d="M589.45 878.00v16.00"/>
<text x="606.77" y="892.50" font-size="22.40" textLength="134.94" lengthAdjust="spacingAndGlyphs">aug-cc-pVTZ</text>
<text x="159.85" y="1152.20" font-size="22.40" textLength="159.87" lengthAdjust="spacingAndGlyphs">orbital number</text>
<text x="519.85" y="1152.20" font-size="22.40" textLength="159.87" lengthAdjust="spacingAndGlyphs">orbital number</text>
</svg></body></html>
